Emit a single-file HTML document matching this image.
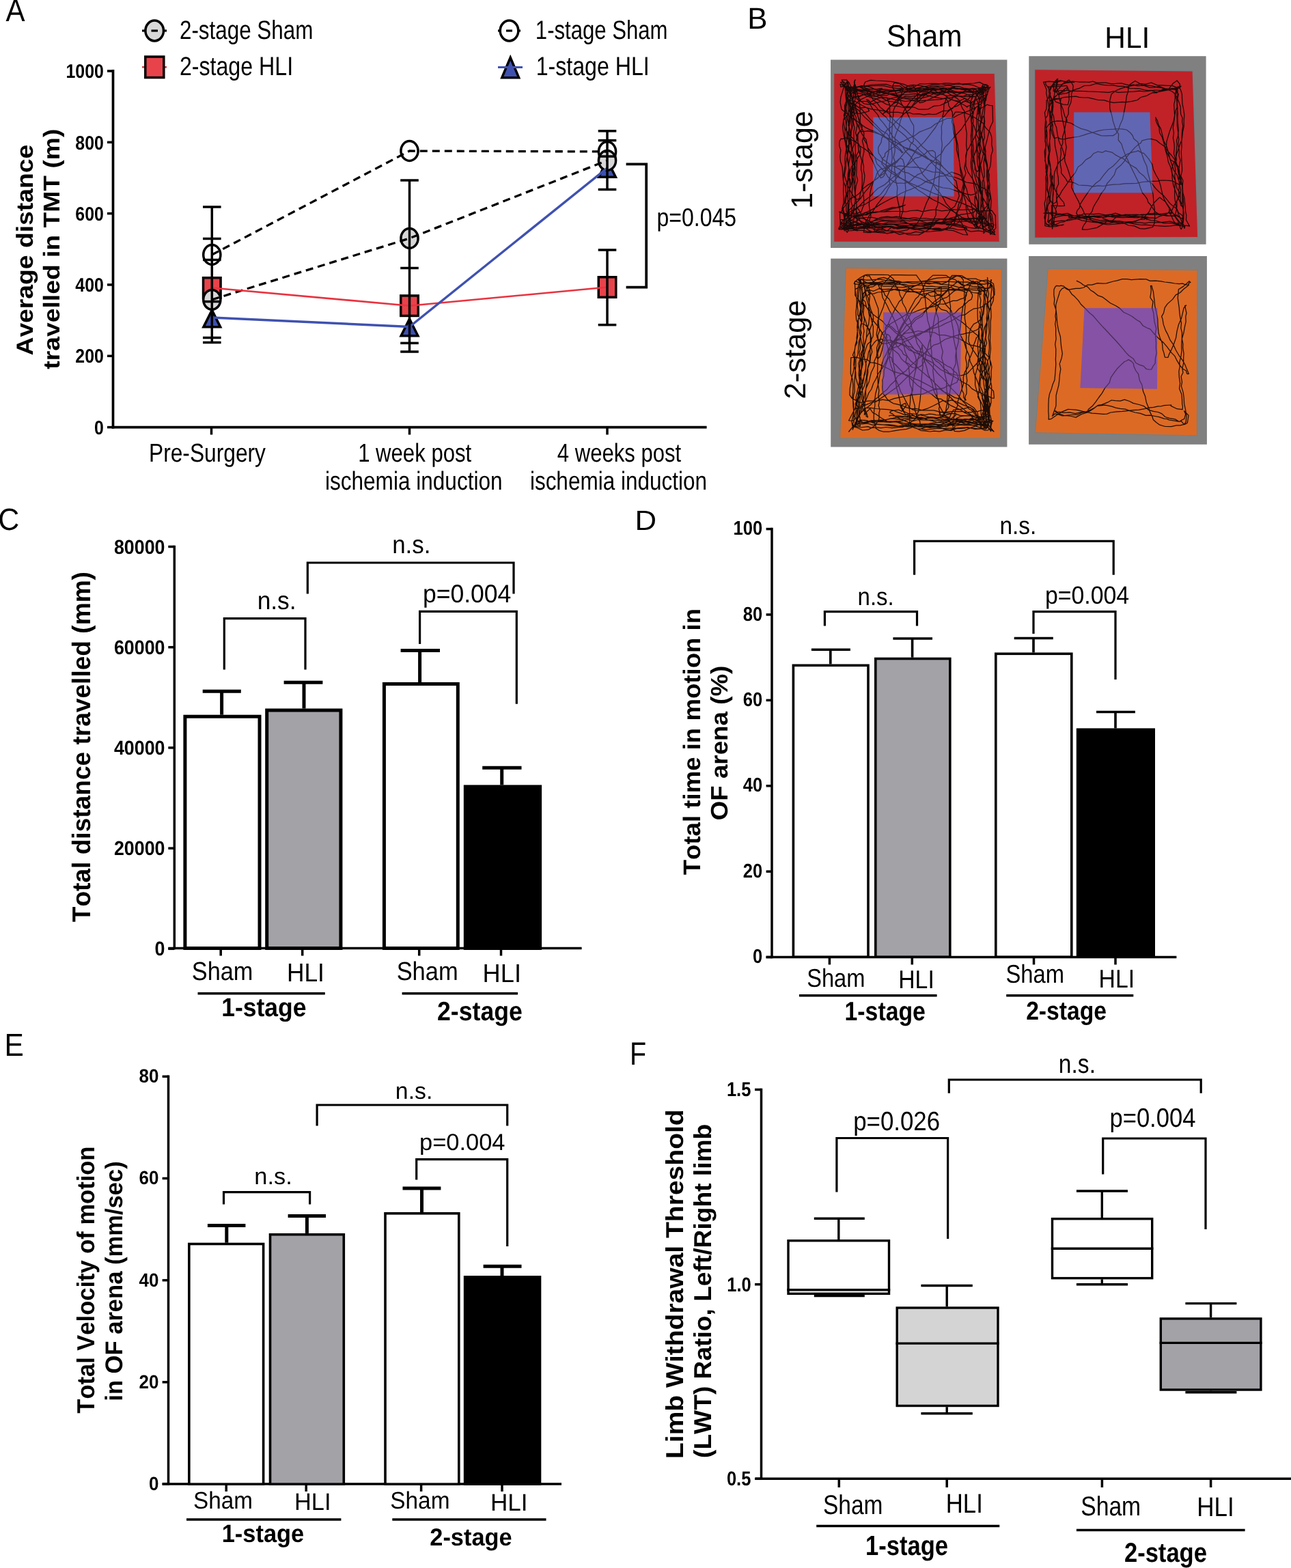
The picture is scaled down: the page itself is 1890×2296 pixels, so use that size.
<!DOCTYPE html>
<html><head><meta charset="utf-8"><title>Figure</title>
<style>
html,body{margin:0;padding:0;background:#fff;}
svg{display:block;font-family:"Liberation Sans",Arial,sans-serif;font-kerning:none;text-rendering:geometricPrecision;}
text{font-kerning:none;}
</style></head><body>
<svg width="1890" height="2296" viewBox="0 0 1890 2296">
<rect width="1890" height="2296" fill="#fff"/>
<text transform="translate(8.52,31.00) scale(0.9103,1)" font-size="46.22" fill="#000">A</text>
<line x1="208.00" y1="45.00" x2="214.00" y2="45.00" stroke="#000" stroke-width="3.2"/>
<line x1="238.00" y1="45.00" x2="244.00" y2="45.00" stroke="#000" stroke-width="3.2"/>
<ellipse cx="226.20" cy="45.00" rx="13.3" ry="14.9" fill="#d8d8d8" stroke="#000" stroke-width="3.5"/>
<line x1="221.50" y1="45.00" x2="231.00" y2="45.00" stroke="#000" stroke-width="3.2"/>
<text transform="translate(262.92,57.40) scale(0.8154,1)" font-size="38.50" fill="#000">2-stage Sham</text>
<line x1="208.00" y1="98.30" x2="244.00" y2="98.30" stroke="#e83340" stroke-width="2.6"/>
<rect x="212.80" y="83.05" width="27.00" height="30.50" fill="#e8434b" stroke="#000" stroke-width="3.5"/>
<text transform="translate(262.88,110.20) scale(0.8350,1)" font-size="38.50" fill="#000">2-stage HLI</text>
<line x1="729.00" y1="45.00" x2="735.00" y2="45.00" stroke="#000" stroke-width="3.2"/>
<line x1="756.00" y1="45.00" x2="762.00" y2="45.00" stroke="#000" stroke-width="3.2"/>
<ellipse cx="745.50" cy="45.00" rx="13.3" ry="14.9" fill="#fff" stroke="#000" stroke-width="3.5"/>
<line x1="741.00" y1="45.00" x2="750.00" y2="45.00" stroke="#000" stroke-width="3.2"/>
<text transform="translate(783.83,57.40) scale(0.8082,1)" font-size="38.50" fill="#000">1-stage Sham</text>
<polygon points="747.20,84.30 759.60,113.65 734.80,113.65" fill="#3f51b0" stroke="#000" stroke-width="3.5" stroke-linejoin="miter"/>
<line x1="729.00" y1="98.50" x2="765.00" y2="98.50" stroke="#3f51b0" stroke-width="3.0"/>
<text transform="translate(784.65,110.20) scale(0.8346,1)" font-size="38.50" fill="#000">1-stage HLI</text>
<line x1="165.50" y1="102.00" x2="165.50" y2="627.40" stroke="#000" stroke-width="3.7"/>
<line x1="163.70" y1="625.60" x2="1034.60" y2="625.60" stroke="#000" stroke-width="3.7"/>
<line x1="157.00" y1="104.00" x2="165.50" y2="104.00" stroke="#000" stroke-width="3.5"/>
<text transform="translate(96.53,114.20) scale(0.8659,1)" font-size="28.70" font-weight="bold" fill="#000">1000</text>
<line x1="157.00" y1="208.32" x2="165.50" y2="208.32" stroke="#000" stroke-width="3.5"/>
<text transform="translate(110.36,218.52) scale(0.8659,1)" font-size="28.70" font-weight="bold" fill="#000">800</text>
<line x1="157.00" y1="312.64" x2="165.50" y2="312.64" stroke="#000" stroke-width="3.5"/>
<text transform="translate(110.36,322.84) scale(0.8659,1)" font-size="28.70" font-weight="bold" fill="#000">600</text>
<line x1="157.00" y1="416.96" x2="165.50" y2="416.96" stroke="#000" stroke-width="3.5"/>
<text transform="translate(110.36,427.16) scale(0.8659,1)" font-size="28.70" font-weight="bold" fill="#000">400</text>
<line x1="157.00" y1="521.28" x2="165.50" y2="521.28" stroke="#000" stroke-width="3.5"/>
<text transform="translate(110.36,531.48) scale(0.8659,1)" font-size="28.70" font-weight="bold" fill="#000">200</text>
<line x1="157.00" y1="625.60" x2="165.50" y2="625.60" stroke="#000" stroke-width="3.5"/>
<text transform="translate(138.00,635.80) scale(0.8659,1)" font-size="28.70" font-weight="bold" fill="#000">0</text>
<line x1="309.50" y1="625.60" x2="309.50" y2="636.50" stroke="#000" stroke-width="3.5"/>
<line x1="599.50" y1="625.60" x2="599.50" y2="636.50" stroke="#000" stroke-width="3.5"/>
<line x1="889.00" y1="625.60" x2="889.00" y2="636.50" stroke="#000" stroke-width="3.5"/>
<text transform="translate(218.00,676.10) scale(0.8390,1)" font-size="37.80" fill="#000">Pre-Surgery</text>
<text transform="translate(524.13,675.80) scale(0.8234,1)" font-size="37.80" fill="#000">1 week post</text>
<text transform="translate(475.89,716.60) scale(0.8353,1)" font-size="37.80" fill="#000">ischemia induction</text>
<text transform="translate(815.79,675.80) scale(0.8224,1)" font-size="37.80" fill="#000">4 weeks post</text>
<text transform="translate(775.89,716.60) scale(0.8331,1)" font-size="37.80" fill="#000">ischemia induction</text>
<text transform="translate(47.80,520.53) rotate(-90) scale(1.0903,1)" font-size="34.20" font-weight="bold" fill="#000">Average distance</text>
<text transform="translate(87.00,540.65) rotate(-90) scale(1.1125,1)" font-size="33.50" font-weight="bold" fill="#000">travelled in TMT (m)</text>
<polyline points="916.6,240.4 946.2,240.4 946.2,420.7 916.6,420.7" fill="none" stroke="#000" stroke-width="3.8"/>
<text transform="translate(961.54,331.40) scale(0.8552,1)" font-size="37.40" fill="#000">p=0.045</text>
<polygon points="310.30,454.10 322.65,478.85 297.95,478.85" fill="#3f51b0" stroke="#000" stroke-width="3.5" stroke-linejoin="miter"/>
<polygon points="599.50,467.00 611.85,491.75 587.15,491.75" fill="#3f51b0" stroke="#000" stroke-width="3.5" stroke-linejoin="miter"/>
<polygon points="889.00,234.50 901.35,259.25 876.65,259.25" fill="#3f51b0" stroke="#000" stroke-width="3.5" stroke-linejoin="miter"/>
<rect x="297.55" y="406.75" width="25.50" height="29.50" fill="#e8434b" stroke="#000" stroke-width="3.5"/>
<rect x="586.75" y="432.95" width="25.50" height="29.50" fill="#e8434b" stroke="#000" stroke-width="3.5"/>
<rect x="876.25" y="405.75" width="25.50" height="29.50" fill="#e8434b" stroke="#000" stroke-width="3.5"/>
<ellipse cx="310.30" cy="373.00" rx="12.6" ry="14.4" fill="#fff" stroke="#000" stroke-width="3.5"/>
<ellipse cx="599.50" cy="221.00" rx="12.6" ry="14.4" fill="#fff" stroke="#000" stroke-width="3.5"/>
<ellipse cx="889.00" cy="222.00" rx="12.6" ry="14.4" fill="#fff" stroke="#000" stroke-width="3.5"/>
<ellipse cx="310.30" cy="438.80" rx="12.6" ry="14.4" fill="#d8d8d8" stroke="#000" stroke-width="3.5"/>
<ellipse cx="599.50" cy="349.00" rx="12.6" ry="14.4" fill="#d8d8d8" stroke="#000" stroke-width="3.5"/>
<ellipse cx="889.00" cy="235.00" rx="12.6" ry="14.4" fill="#d8d8d8" stroke="#000" stroke-width="3.5"/>
<polyline points="310.30,373.00 599.50,221.00 889.00,222.00" fill="none" stroke="#000" stroke-width="3.3" stroke-dasharray="11,7"/>
<polyline points="310.30,438.80 599.50,349.00 889.00,235.00" fill="none" stroke="#000" stroke-width="3.3" stroke-dasharray="11,7"/>
<polyline points="310.30,421.50 599.50,447.70 889.00,420.50" fill="none" stroke="#e83340" stroke-width="2.6"/>
<polyline points="310.30,465.00 599.50,478.50 889.00,246.00" fill="none" stroke="#3f51b0" stroke-width="3.4"/>
<line x1="310.30" y1="303.00" x2="310.30" y2="501.50" stroke="#000" stroke-width="3.5"/>
<line x1="297.00" y1="303.00" x2="323.60" y2="303.00" stroke="#000" stroke-width="3.5"/>
<line x1="297.00" y1="349.50" x2="323.60" y2="349.50" stroke="#000" stroke-width="3.5"/>
<line x1="297.00" y1="380.50" x2="323.60" y2="380.50" stroke="#000" stroke-width="3.5"/>
<line x1="297.00" y1="441.60" x2="323.60" y2="441.60" stroke="#000" stroke-width="3.5"/>
<line x1="297.00" y1="494.50" x2="323.60" y2="494.50" stroke="#000" stroke-width="3.5"/>
<line x1="297.00" y1="501.50" x2="323.60" y2="501.50" stroke="#000" stroke-width="3.5"/>
<line x1="599.50" y1="264.00" x2="599.50" y2="515.00" stroke="#000" stroke-width="3.5"/>
<line x1="586.20" y1="264.00" x2="612.80" y2="264.00" stroke="#000" stroke-width="3.5"/>
<line x1="586.20" y1="392.50" x2="612.80" y2="392.50" stroke="#000" stroke-width="3.5"/>
<line x1="586.20" y1="502.40" x2="612.80" y2="502.40" stroke="#000" stroke-width="3.5"/>
<line x1="586.20" y1="515.00" x2="612.80" y2="515.00" stroke="#000" stroke-width="3.5"/>
<line x1="889.00" y1="191.80" x2="889.00" y2="277.50" stroke="#000" stroke-width="3.5"/>
<line x1="875.70" y1="191.80" x2="902.30" y2="191.80" stroke="#000" stroke-width="3.5"/>
<line x1="875.70" y1="205.60" x2="902.30" y2="205.60" stroke="#000" stroke-width="3.5"/>
<line x1="875.70" y1="229.00" x2="902.30" y2="229.00" stroke="#000" stroke-width="3.5"/>
<line x1="875.70" y1="277.50" x2="902.30" y2="277.50" stroke="#000" stroke-width="3.5"/>
<line x1="889.00" y1="366.00" x2="889.00" y2="475.70" stroke="#000" stroke-width="3.5"/>
<line x1="875.70" y1="366.00" x2="902.30" y2="366.00" stroke="#000" stroke-width="3.5"/>
<line x1="875.70" y1="475.70" x2="902.30" y2="475.70" stroke="#000" stroke-width="3.5"/>
<text transform="translate(1094.21,42.00) scale(0.9973,1)" font-size="43.90" fill="#000">B</text>
<text transform="translate(1298.08,68.30) scale(0.9392,1)" font-size="45.00" fill="#000">Sham</text>
<text transform="translate(1617.33,69.80) scale(0.9732,1)" font-size="43.50" fill="#000">HLI</text>
<text transform="translate(1188.50,305.67) rotate(-90) scale(0.9792,1)" font-size="43.90" fill="#000">1-stage</text>
<text transform="translate(1179.30,584.49) rotate(-90) scale(0.9918,1)" font-size="43.90" fill="#000">2-stage</text>
<rect x="1216.0" y="87.5" width="258.40" height="275.50" fill="#808080"/>
<polygon points="1221.20,108.00 1455.70,108.00 1462.70,353.70 1221.20,353.70" fill="#c02228" stroke="#6f8187" stroke-width="2.2"/>
<polygon points="1221.20,108.00 1455.70,108.00 1462.70,353.70 1221.20,353.70" fill="#c02228"/>
<polygon points="1278.40,171.80 1395.80,171.80 1396.60,287.60 1278.40,287.60" fill="#6266b2"/>
<path d="M1415.6,300.4 1417.1,306.2 1422.6,313.7 1426.6,324.5 1430.8,331.4 1432.4,335.0 1436.1,328.7 1431.7,319.2 1426.0,319.8 1419.3,321.5 1410.1,322.0 1400.7,327.0 1392.5,327.8 1386.3,329.6 1382.1,326.0 1380.5,321.7 1384.5,318.5 1387.9,314.0 1392.3,305.9 1397.7,302.2 1401.5,294.0 1404.3,286.9 1402.1,276.6 1399.8,265.1 1396.6,262.6 1394.2,258.1 1388.9,252.7 1384.3,248.3 1379.7,244.0 1375.5,237.0 1370.7,233.0 1362.4,227.2 1358.1,221.3 1350.5,215.0 1344.7,208.1 1339.0,202.6 1331.8,196.4 1325.9,190.4 1317.5,183.3 1310.5,177.8 1305.4,171.9 1301.5,166.5 1293.6,161.1 1288.5,157.0 1283.8,150.2 1279.2,147.5 1275.7,141.9 1272.6,138.1 1268.9,134.1 1268.3,131.1 1266.2,127.8 1264.7,124.5 1266.7,120.0 1274.5,117.4 1282.2,118.0 1292.6,118.5 1304.7,119.4 1313.9,121.2 1323.0,123.4 1332.2,127.0 1336.8,125.9 1343.2,136.1 1343.2,146.1 1346.5,150.6 1351.6,149.7 1356.9,147.0 1366.4,142.6 1376.2,138.1 1384.3,135.7 1392.2,130.7 1395.9,128.4 1398.3,126.9 1397.0,126.4 1392.4,128.4 1385.9,131.7 1377.3,135.6 1368.0,136.7 1358.9,141.1 1350.8,143.3 1342.6,144.2 1336.0,143.9 1327.2,143.2 1319.3,142.0 1311.2,139.8 1304.4,137.3 1295.1,136.5 1289.1,135.0 1283.2,136.5 1277.4,139.2 1267.9,142.0 1257.9,146.9 1254.1,151.2 1247.5,155.9 1245.4,160.3 1242.4,162.2 1246.7,164.8 1256.8,166.4 1267.8,164.1 1272.5,162.4 1270.6,158.9 1261.9,154.3 1250.9,147.9 1245.9,147.5 1239.0,149.2 1237.3,157.5 1236.3,171.2 1234.7,175.4 1235.6,182.4 1237.1,190.8 1236.9,198.5 1237.8,206.7 1239.5,215.4 1239.8,225.0 1241.4,233.0 1241.9,239.7 1243.4,249.2 1241.9,257.0 1244.9,263.8 1245.3,266.9 1245.7,270.9 1246.2,271.6 1247.6,266.3 1246.6,254.5 1248.0,244.3 1248.7,233.8 1247.2,226.0 1242.7,219.9 1243.4,210.1 1243.4,203.5 1243.0,194.7 1242.9,186.5 1244.4,177.1 1244.4,170.1 1244.5,161.1 1242.8,150.6 1242.1,145.4 1241.5,141.4 1240.1,144.7 1236.6,154.4 1236.6,164.4 1235.4,169.0 1238.0,175.8 1238.6,181.6 1239.4,189.5 1239.9,198.1 1239.5,205.3 1238.7,210.7 1242.2,218.6 1241.2,225.2 1240.8,235.0 1241.8,241.5 1243.8,250.0 1243.4,256.7 1243.4,263.7 1243.9,270.4 1243.6,279.8 1244.1,287.3 1243.3,295.9 1242.5,305.0 1243.2,311.5 1243.0,317.6 1242.4,323.1 1243.1,329.4 1243.6,331.7 1255.3,328.4 1259.9,327.8 1265.6,328.6 1272.5,329.8 1280.1,329.4 1289.5,330.4 1296.3,331.4 1304.7,331.2 1314.0,333.6 1321.8,331.7 1329.0,334.0 1336.0,333.6 1342.8,333.8 1349.0,335.1 1358.3,331.8 1366.6,330.9 1369.5,327.2 1375.4,325.5 1385.4,328.1 1394.3,330.0 1405.1,332.3 1411.9,333.6 1415.7,335.4 1414.7,333.3 1403.3,330.0 1389.0,329.3 1382.7,327.6 1379.2,328.2 1371.6,327.3 1363.8,326.8 1355.7,327.8 1349.6,326.9 1341.7,327.0 1334.4,327.4 1328.6,327.2 1320.2,327.7 1313.1,328.1 1305.0,327.8 1295.8,327.8 1287.2,327.3 1278.4,326.0 1271.5,326.8 1264.1,328.3 1256.8,327.7 1253.3,325.7 1244.2,325.4 1245.9,327.1 1251.1,337.1 1255.6,337.8 1253.6,334.4 1254.1,327.8 1255.4,321.8 1253.3,316.1 1253.4,307.6 1254.1,300.3 1253.2,292.8 1252.2,285.1 1250.8,275.2 1252.0,264.8 1251.3,256.0 1251.7,251.0 1250.4,243.3 1249.9,236.1 1250.3,227.0 1247.5,219.4 1250.4,211.5 1250.0,201.4 1249.8,193.6 1251.0,186.8 1249.1,178.5 1250.2,173.2 1247.3,166.5 1250.2,161.5 1248.9,159.8 1249.6,157.2 1250.2,165.2 1248.8,181.4 1247.6,187.0 1246.2,192.9 1245.7,199.1 1243.9,206.1 1242.0,214.8 1240.7,224.5 1239.8,230.9 1238.3,239.2 1238.1,246.7 1236.9,253.3 1236.3,257.0 1239.9,268.6 1243.4,276.9 1247.8,284.7 1252.5,291.3 1255.9,292.0 1258.7,289.8 1259.3,284.1 1261.7,276.5 1262.3,266.8 1262.0,253.8 1260.6,248.4 1260.7,242.6 1261.9,235.8 1259.2,227.4 1256.9,218.4 1256.4,210.4 1254.7,201.6 1252.6,194.5 1254.9,183.9 1253.4,177.6 1253.3,172.1 1250.7,165.7 1250.4,160.6 1249.7,158.9 1246.5,156.8 1245.1,160.9 1245.9,168.8 1243.1,178.2 1242.7,189.9 1241.7,198.2 1239.3,205.8 1239.3,212.7 1238.8,219.3 1237.6,226.0 1236.9,234.0 1237.3,242.7 1235.8,250.6 1235.0,257.9 1234.8,266.4 1234.9,273.5 1234.6,279.9 1235.2,289.6 1235.0,297.0 1232.7,306.1 1234.9,312.9 1236.4,322.4 1235.6,327.2 1235.7,333.5 1236.3,338.0 1236.1,332.3 1242.1,321.1 1249.7,324.1 1258.5,327.0 1268.7,331.6 1273.5,333.2 1272.0,326.6 1263.9,318.8 1257.6,307.7 1254.5,303.5 1253.5,308.6 1256.8,316.4 1259.2,323.4 1266.0,332.9 1273.0,337.9 1278.0,339.9 1284.7,340.3 1293.6,339.8 1298.7,342.1 1307.4,339.2 1317.1,343.3 1326.5,341.5 1333.4,341.7 1340.7,339.3 1347.8,340.5 1354.2,339.4 1362.1,334.4 1365.5,329.2 1369.5,324.6 1376.6,321.0 1382.5,321.8 1389.5,321.3 1398.6,321.6 1406.5,321.4 1416.5,323.5 1423.6,324.8 1433.1,326.3 1439.3,327.1 1446.8,328.4 1452.4,327.5 1455.2,329.1 1454.1,331.3 1441.9,329.9 1441.5,324.3 1442.3,318.5 1442.1,309.7 1439.0,298.4 1439.3,291.9 1437.3,287.7 1436.9,279.2 1433.5,273.6 1434.6,264.9 1429.1,257.2 1429.1,249.5 1427.1,241.5 1424.7,234.7 1423.3,225.9 1423.3,220.4 1422.2,212.8 1421.6,204.1 1422.0,196.1 1422.3,187.0 1422.5,175.1 1424.8,166.9 1426.2,158.9 1425.9,153.3 1427.7,146.9 1429.1,144.2 1428.8,141.9 1428.4,143.7 1431.0,148.6 1432.0,153.1 1432.2,159.6 1433.3,169.5 1431.8,177.7 1433.0,187.8 1433.4,196.5 1434.5,205.8 1433.0,213.2 1435.7,221.5 1434.2,228.2 1433.5,236.1 1434.7,244.2 1434.9,251.0 1432.3,263.0 1432.9,267.0 1434.0,274.7 1431.9,282.5 1432.7,287.4 1432.8,293.2 1432.8,307.8 1434.0,314.8 1433.6,319.1 1429.1,334.0 1419.2,320.9 1417.1,317.7 1416.3,313.3 1414.6,307.2 1414.2,300.5 1413.5,294.6 1410.7,285.8 1410.7,276.7 1410.3,268.2 1408.0,259.7 1406.0,249.9 1405.2,240.5 1403.7,232.2 1402.9,221.6 1402.2,212.7 1400.3,204.2 1398.2,193.9 1396.9,185.1 1395.6,179.9 1394.8,172.7 1394.2,164.1 1391.0,157.9 1388.9,155.0 1388.5,150.7 1387.6,147.9 1385.2,145.5 1384.9,144.9 1384.4,146.4 1384.0,148.8 1382.6,150.8 1381.9,154.3 1381.7,159.3 1381.3,165.6 1380.0,170.2 1380.0,179.9 1378.2,185.1 1378.6,194.8 1378.1,202.2 1379.3,211.4 1378.4,219.7 1377.5,229.3 1377.3,238.9 1376.1,248.6 1375.2,256.7 1374.6,266.4 1374.4,276.3 1373.7,283.9 1373.2,292.6 1372.7,300.0 1370.2,305.4 1370.2,314.7 1367.7,320.0 1366.0,323.6 1364.1,327.9 1360.3,335.6 1352.4,340.3 1345.4,343.9 1337.2,344.0 1329.5,343.7 1322.3,340.8 1313.7,339.6 1306.0,338.0 1299.0,338.2 1293.9,335.9 1282.9,336.1 1273.4,333.6 1267.5,334.2 1258.8,334.7 1249.5,337.4 1242.3,338.0 1238.6,333.8 1237.1,330.8 1241.0,322.9 1245.7,318.6 1249.0,308.9 1252.0,294.7 1251.9,289.9 1251.9,284.2 1251.2,277.5 1251.7,271.5 1250.1,264.4 1248.2,255.9 1248.4,249.0 1248.2,241.6 1246.8,233.3 1246.2,224.1 1246.5,217.6 1245.3,210.6 1244.9,203.7 1245.8,194.3 1246.8,187.7 1246.0,178.0 1246.2,169.7 1247.2,161.0 1247.7,152.2 1248.6,144.4 1249.9,136.6 1251.0,129.8 1250.7,123.5 1250.5,119.6 1252.3,117.0 1251.3,117.3 1250.9,131.1 1252.2,140.7 1255.1,141.3 1263.9,138.9 1277.2,135.5 1281.8,134.5 1287.4,136.5 1293.9,133.4 1301.0,133.9 1309.0,133.8 1315.3,132.9 1322.2,132.0 1328.9,131.1 1337.2,132.5 1346.3,131.1 1350.6,131.7 1359.6,130.4 1365.8,129.0 1372.6,130.8 1381.4,128.3 1387.5,130.8 1395.5,128.5 1405.2,129.7 1410.5,130.7 1417.1,130.0 1425.1,131.1 1430.4,130.1 1436.0,130.1 1439.9,129.4 1447.3,126.0 1445.8,125.2 1445.0,132.0 1445.7,138.0 1442.5,143.7 1442.0,152.5 1441.4,164.2 1440.7,169.6 1441.6,177.8 1441.0,185.3 1440.7,192.8 1441.4,201.6 1439.0,208.6 1440.4,216.4 1440.2,223.0 1437.3,235.2 1433.9,246.4 1431.4,251.3 1427.3,248.8 1427.4,242.5 1426.8,238.0 1425.5,229.0 1425.1,217.4 1424.1,208.5 1423.7,198.5 1424.0,188.3 1424.8,177.4 1424.2,166.8 1422.5,159.4 1420.7,151.6 1417.0,148.7 1412.9,144.1 1406.7,146.8 1404.7,148.6 1402.6,150.4 1397.0,155.7 1394.9,158.5 1390.6,161.1 1387.1,164.2 1383.0,169.7 1377.3,173.9 1372.4,181.7 1369.2,187.0 1363.7,194.2 1359.6,199.6 1353.2,207.6 1348.2,212.6 1341.7,218.8 1336.5,227.1 1331.8,235.5 1327.0,242.9 1320.8,248.0 1316.2,255.7 1310.8,262.9 1305.0,268.9 1300.3,275.9 1297.1,282.6 1291.8,289.8 1287.0,295.9 1283.8,299.9 1279.7,306.4 1276.6,311.4 1272.5,315.7 1270.2,320.8 1267.6,324.2 1266.7,326.6 1264.4,340.2 1274.2,340.7 1290.3,335.6 1295.3,332.5 1293.5,333.4 1286.7,331.8 1280.4,333.9 1270.0,334.2 1262.0,333.4 1251.6,333.3 1244.2,332.6 1240.8,332.3 1228.0,334.3 1233.9,322.5 1237.0,322.2 1241.4,317.7 1245.5,314.9 1248.5,309.8 1255.0,304.8 1260.9,298.8 1265.4,294.0 1274.1,287.4 1278.9,282.0 1285.3,275.7 1294.4,270.9 1301.6,264.8 1308.0,259.1 1315.6,253.8 1321.9,247.9 1328.5,241.7 1334.2,236.7 1339.6,231.7 1345.4,230.3 1351.0,227.2 1355.5,224.2 1357.2,221.7 1362.3,220.6 1365.7,220.4 1368.9,222.9 1369.3,223.9 1369.6,229.3 1371.0,238.0 1369.8,244.5 1369.8,251.1 1368.2,260.4 1366.4,269.4 1362.9,279.4 1360.6,288.6 1356.4,297.0 1353.0,306.3 1350.2,314.1 1346.4,321.1 1343.3,326.3 1338.9,330.8 1332.6,333.8 1328.3,336.7 1319.5,338.4 1311.9,339.4 1305.5,340.8 1297.3,341.5 1285.4,340.5 1279.0,339.9 1269.7,338.9 1263.0,337.3 1255.7,337.3 1249.8,335.4 1243.1,334.7 1237.8,334.0 1231.0,335.9 1236.8,334.9 1239.2,336.5 1240.6,334.3 1239.0,329.8 1237.7,322.1 1235.9,312.4 1233.7,301.9 1236.5,297.9 1237.1,290.8 1238.8,284.5 1237.8,278.3 1238.9,269.5 1241.1,263.9 1241.4,254.8 1242.7,248.3 1242.5,239.8 1244.1,232.6 1245.2,226.3 1241.6,219.5 1242.8,211.2 1241.8,203.6 1241.2,195.9 1243.3,187.2 1242.0,179.9 1240.8,171.6 1240.3,165.5 1238.8,160.3 1238.4,152.6 1238.8,147.4 1237.8,137.2 1237.1,127.2 1237.1,121.5 1234.9,119.7 1230.6,120.5 1237.1,126.8 1240.7,126.1 1243.8,127.3 1250.2,128.4 1257.0,127.2 1264.5,128.7 1272.2,130.3 1281.1,130.4 1289.1,131.1 1295.0,130.9 1304.2,132.1 1312.8,132.0 1319.0,133.8 1326.4,135.1 1332.9,133.4 1342.8,132.7 1347.0,134.6 1355.3,134.5 1364.6,134.7 1371.3,135.8 1378.0,134.0 1386.2,135.4 1393.5,135.0 1399.3,135.4 1406.0,136.2 1411.6,133.5 1416.1,134.8 1427.4,133.9 1437.2,130.9 1443.8,131.8 1448.7,129.0 1449.9,127.4 1448.9,128.2 1440.3,128.5 1438.0,131.9 1432.3,134.5 1429.1,140.6 1424.9,151.3 1423.9,156.5 1422.3,161.8 1424.3,167.8 1421.6,174.5 1422.5,183.2 1422.6,191.7 1421.4,198.2 1421.8,205.8 1422.9,213.6 1421.9,221.1 1422.4,230.0 1421.4,237.0 1421.7,245.0 1423.0,252.1 1423.6,260.7 1425.4,268.4 1426.6,276.0 1428.8,287.0 1431.2,294.7 1431.0,302.2 1433.2,311.4 1435.3,318.5 1437.6,326.2 1437.7,330.9 1440.1,336.9 1440.1,340.4 1439.7,341.5 1441.0,340.9 1440.0,336.2 1439.0,327.9 1436.3,318.6 1432.7,306.3 1431.8,297.6 1430.1,292.6 1427.4,287.2 1427.2,288.3 1427.2,297.2 1430.3,309.5 1429.0,316.0 1430.1,333.0 1427.6,327.2 1426.2,324.1 1425.9,318.9 1424.4,312.4 1423.7,307.5 1422.4,301.1 1420.2,294.3 1417.3,286.3 1415.1,276.8 1412.4,270.2 1410.3,260.2 1408.2,252.7 1405.4,243.4 1404.4,235.1 1401.8,224.7 1400.4,219.6 1400.4,210.2 1399.1,203.8 1396.5,195.3 1395.3,189.2 1395.0,182.7 1393.4,178.4 1394.0,174.8 1394.0,171.8 1398.6,164.1 1403.8,164.0 1411.2,164.9 1419.8,168.0 1428.7,173.2 1438.5,179.7 1442.9,186.9 1449.4,193.6 1451.6,200.1 1452.0,205.1 1451.8,211.6 1453.4,220.1 1451.0,227.5 1450.6,236.5 1449.8,243.4 1447.3,250.2 1447.0,260.6 1446.4,266.8 1445.4,272.8 1444.7,281.3 1447.7,291.8 1447.8,300.7 1448.3,310.4 1447.0,316.3 1446.7,325.2 1448.6,330.1 1447.1,334.5 1447.1,333.7 1447.9,330.1 1441.9,319.6 1429.6,307.3 1427.0,306.1 1422.5,303.6 1414.4,300.2 1408.5,297.7 1400.4,294.8 1392.4,292.4 1383.5,288.4 1375.5,286.2 1367.1,283.2 1357.9,278.9 1349.0,275.3 1340.7,271.5 1331.9,267.9 1325.7,264.2 1316.5,260.1 1310.6,256.4 1304.3,253.0 1300.1,249.6 1296.3,246.8 1292.9,241.9 1290.9,240.0 1291.9,234.4 1292.1,231.6 1295.4,229.0 1295.7,224.8 1299.6,221.0 1305.3,217.3 1311.3,213.2 1316.9,208.8 1323.0,206.6 1330.0,202.7 1337.9,199.4 1345.8,193.4 1353.1,190.5 1363.2,186.6 1369.0,181.7 1377.1,177.7 1386.8,173.3 1394.1,173.3 1402.4,168.5 1409.8,165.5 1419.3,161.8 1423.7,159.7 1431.6,155.8 1435.6,158.7 1441.9,155.5 1444.9,153.2 1449.0,154.3 1453.0,154.7 1453.1,157.2 1453.2,162.1 1453.3,168.0 1453.6,177.9 1449.6,186.6 1446.9,196.6 1444.6,206.6 1442.1,215.8 1443.0,221.8 1441.7,228.5 1440.3,236.7 1440.3,244.1 1440.8,250.9 1441.2,258.6 1438.0,266.8 1439.1,274.3 1438.2,281.5 1438.5,288.7 1438.8,295.2 1437.6,299.9 1439.1,305.1 1440.6,319.2 1436.9,325.8 1433.5,324.1 1427.3,323.5 1418.7,322.0 1407.4,321.7 1400.5,321.5 1395.5,322.9 1385.9,324.7 1378.7,325.7 1371.5,327.1 1360.0,328.9 1353.8,329.8 1349.1,331.5 1342.9,331.4 1334.4,329.8 1330.7,328.0 1322.4,323.0 1317.0,324.5 1310.5,325.2 1301.5,325.0 1293.5,327.5 1283.9,329.0 1277.1,330.4 1268.3,331.8 1261.5,332.9 1256.8,333.6 1242.5,331.6 1234.2,328.4 1231.7,326.3 1237.6,326.9 1246.3,327.6 1243.2,319.8 1238.8,308.6 1239.0,300.4 1237.7,295.9 1239.3,288.3 1240.4,281.2 1241.0,272.8 1241.3,266.1 1243.6,258.3 1244.4,251.7 1246.7,243.6 1251.9,238.2 1255.8,230.9 1259.3,226.1 1259.8,217.6 1257.2,210.8 1252.9,208.3 1248.6,202.7 1242.4,196.5 1238.2,189.9 1239.1,182.5 1239.9,175.3 1237.6,166.9 1238.9,156.3 1240.5,148.8 1239.5,142.1 1239.9,134.5 1239.2,127.3 1230.1,123.3 1230.9,127.4 1233.6,126.4 1240.0,127.3 1247.5,127.3 1255.8,130.5 1264.3,132.2 1272.1,132.6 1280.6,133.9 1287.5,134.2 1295.5,137.4 1301.0,136.8 1311.4,139.1 1319.4,139.0 1325.6,138.5 1331.6,138.2 1339.8,137.4 1346.5,138.6 1352.7,138.2 1360.3,136.7 1368.0,135.9 1372.9,136.4 1381.1,134.9 1388.7,134.3 1395.2,133.3 1402.9,134.9 1411.8,134.3 1417.7,133.3 1423.7,134.3 1429.1,133.9 1435.9,130.8 1435.7,133.7 1436.7,137.2 1436.5,141.8 1436.3,155.4 1434.9,161.6 1435.1,168.3 1436.2,175.1 1435.3,182.7 1435.1,191.3 1435.1,199.6 1435.2,207.5 1433.6,216.1 1434.9,222.7 1432.4,229.0 1433.7,237.0 1433.3,246.4 1434.5,254.0 1434.0,260.7 1435.6,266.8 1436.2,273.2 1436.0,280.6 1436.9,289.6 1438.2,296.6 1435.7,306.5 1437.5,313.3 1438.4,320.7 1436.9,325.1 1437.0,317.7 1427.7,307.8 1425.6,311.2 1418.3,312.6 1412.9,313.4 1406.4,314.1 1399.8,317.4 1391.3,319.4 1385.5,322.5 1376.9,326.1 1369.7,326.2 1362.1,329.7 1356.0,330.3 1347.3,331.2 1340.0,331.3 1333.4,334.6 1325.8,333.0 1317.6,333.5 1308.8,334.6 1301.5,331.7 1293.9,333.4 1285.6,334.1 1279.5,332.2 1272.9,333.2 1266.8,332.4 1261.9,334.3 1248.1,333.3 1242.4,334.6 1237.8,332.7 1238.4,328.3 1239.7,321.7 1240.8,315.6 1241.4,301.3 1241.2,297.2 1241.5,289.9 1238.2,281.0 1237.8,273.4 1234.5,264.7 1233.8,255.8 1233.1,244.5 1230.4,236.1 1229.9,229.0 1230.8,219.9 1228.8,213.2 1229.0,207.1 1231.1,203.1 1233.9,203.3 1237.8,201.9 1240.8,202.5 1245.9,204.3 1249.4,206.2 1256.2,210.5 1259.2,214.2 1265.4,217.6 1271.6,222.4 1278.6,228.0 1283.0,232.4 1292.0,238.3 1298.2,242.4 1303.4,249.5 1311.7,254.4 1317.5,260.1 1324.1,264.1 1331.1,269.1 1338.0,273.4 1344.4,278.5 1349.9,281.7 1356.4,286.2 1365.5,292.3 1374.2,296.3 1382.2,300.9 1391.6,307.4 1400.4,312.4 1409.5,319.2 1417.6,325.0 1425.0,327.9 1433.1,332.6 1439.6,335.6 1445.6,339.4 1451.0,341.9 1456.0,339.9 1455.2,342.4 1456.1,339.0 1454.5,336.9 1452.8,335.2 1452.8,331.2 1449.9,328.6 1445.2,324.0 1442.2,321.4 1438.4,316.8 1434.5,312.8 1431.1,306.1 1424.9,299.8 1418.8,294.6 1414.1,287.9 1407.9,282.3 1400.2,275.3 1393.6,269.1 1386.8,261.8 1381.6,254.0 1372.7,247.1 1367.0,241.1 1360.4,233.7 1353.8,227.1 1346.0,220.1 1339.9,212.9 1332.3,207.8 1325.7,199.4 1319.9,194.5 1311.5,188.0 1308.8,182.4 1300.4,176.3 1297.3,171.4 1292.5,167.8 1286.5,161.6 1283.5,157.8 1280.3,154.1 1275.7,152.1 1273.2,148.8 1272.2,147.4 1271.1,146.4 1268.4,146.0 1270.2,147.0 1269.9,147.4 1271.2,150.2 1272.5,150.8 1275.5,155.8 1277.3,159.3 1281.4,163.9 1284.9,167.8 1287.9,174.2 1293.6,180.6 1298.2,186.8 1302.8,193.2 1307.5,200.8 1314.8,207.0 1321.7,214.9 1325.7,221.8 1332.8,228.8 1339.0,237.8 1346.4,246.6 1350.6,255.2 1356.8,262.2 1365.4,269.0 1370.5,276.5 1375.2,281.7 1380.8,289.8 1384.9,297.9 1389.3,302.6 1394.7,308.6 1399.4,312.5 1403.3,317.9 1404.7,324.0 1408.4,327.2 1409.5,330.5 1416.6,344.0 1410.1,343.5 1395.6,337.7 1379.2,335.8 1374.5,334.2 1369.1,334.2 1362.1,335.3 1354.5,334.6 1346.8,335.5 1338.6,336.2 1330.3,333.9 1322.6,334.1 1314.0,335.1 1307.1,332.8 1298.8,332.5 1293.8,331.3 1286.9,333.0 1280.8,331.2 1265.7,326.5 1254.5,321.1 1250.2,317.1 1260.8,313.7 1266.3,311.3 1269.5,311.9 1275.1,310.5 1281.1,311.3 1287.1,310.1 1294.0,310.2 1300.5,309.7 1308.5,309.5 1317.2,309.3 1326.9,309.8 1333.3,308.5 1343.3,307.9 1350.6,309.8 1361.4,307.7 1369.6,307.0 1378.6,308.9 1388.1,307.9 1395.4,306.9 1404.0,307.3 1411.4,307.2 1419.9,306.8 1426.4,306.3 1431.8,309.6 1438.1,308.6 1443.7,308.7 1449.8,308.4 1451.9,308.1 1457.3,315.7 1457.5,325.6 1457.7,334.1 1452.1,340.3 1445.4,336.6 1439.0,330.1 1438.8,333.3 1444.3,330.8 1443.4,323.7 1444.5,318.9 1443.9,311.3 1446.2,303.0 1445.0,294.7 1445.4,287.3 1445.7,280.2 1448.0,274.6 1445.5,266.4 1444.7,258.5 1444.7,251.6 1445.3,243.4 1442.0,234.9 1441.7,227.9 1438.5,222.8 1435.1,212.4 1434.1,205.4 1429.7,197.8 1428.8,192.9 1426.0,184.4 1421.7,178.1 1421.6,172.2 1420.2,162.0 1420.4,156.2 1421.0,149.2 1424.6,137.1 1419.5,130.6 1413.1,132.3 1409.7,135.5 1403.4,137.8 1396.7,141.3 1391.4,146.9 1384.0,150.9 1376.1,154.5 1367.0,155.4 1358.7,160.0 1351.0,160.2 1345.2,160.2 1338.7,157.2 1330.3,156.2 1323.6,156.4 1316.4,151.1 1307.0,149.0 1300.1,148.1 1291.0,143.4 1286.5,142.3 1279.2,139.5 1273.3,138.3 1266.8,135.3 1262.9,134.4 1257.8,132.3 1244.0,127.7 1242.9,132.8 1243.6,137.1 1246.4,141.2 1249.3,148.7 1252.6,156.0 1254.8,163.1 1256.9,173.8 1258.2,180.0 1257.6,185.0 1258.7,191.9 1255.9,197.2 1256.0,205.5 1256.3,213.7 1257.1,221.5 1253.6,227.8 1254.7,234.1 1254.2,242.1 1254.0,250.5 1253.6,256.2 1255.7,264.0 1253.2,272.4 1252.0,281.8 1252.8,290.2 1251.2,298.8 1249.6,309.9 1250.5,316.7 1249.8,323.2 1249.2,328.5 1248.8,334.5 1249.5,336.2 1248.2,335.0 1245.9,330.6 1244.1,324.2 1242.0,312.9 1241.9,305.2 1241.4,295.7 1241.3,288.4 1241.7,280.5 1245.7,272.6 1247.2,266.4 1249.3,258.0 1252.0,249.5 1252.0,244.0 1250.3,236.7 1249.1,229.2 1248.7,222.7 1247.1,214.6 1246.0,206.0 1245.1,198.9 1244.3,189.1 1241.9,183.5 1243.2,175.1 1242.5,167.2 1241.8,157.1 1241.8,150.4 1241.3,143.0 1241.2,136.8 1243.3,131.1 1247.3,130.6 1256.1,132.8 1264.3,136.5 1267.9,137.8 1275.4,141.4 1282.6,140.9 1288.1,139.7 1295.4,137.5 1302.0,135.0 1309.6,133.4 1315.7,131.4 1322.5,129.4 1331.2,125.1 1336.5,124.4 1348.8,125.7 1353.7,126.9 1359.0,129.4 1366.0,131.1 1374.9,136.7 1381.7,138.2 1389.0,144.3 1396.0,146.8 1403.3,149.3 1408.4,152.2 1412.3,154.2 1416.0,157.1 1416.0,155.9 1422.1,153.7 1431.2,151.5 1438.1,147.5 1438.9,139.9 1437.9,132.0 1433.4,128.5 1425.0,124.9 1415.2,123.3 1409.4,123.8 1404.3,121.8 1395.6,122.5 1389.1,121.9 1382.2,121.9 1374.0,123.3 1365.1,123.7 1357.2,126.0 1350.8,127.1 1343.3,128.8 1337.9,132.6 1330.1,132.0 1322.5,137.1 1315.6,141.8 1306.1,143.5 1299.4,146.6 1294.6,148.0 1289.4,148.9 1277.4,151.8 1271.4,152.8 1265.4,152.0 1260.6,148.5 1257.2,142.6 1252.4,131.1 1252.4,124.8 1251.0,122.4 1249.5,127.2 1250.0,132.6 1249.1,140.2 1248.9,148.8 1249.3,155.7 1246.9,165.7 1247.4,175.0 1248.7,182.6 1246.2,190.6 1246.1,196.6 1244.9,209.7 1240.0,214.5 1238.9,216.7 1237.7,209.7 1236.3,202.8 1234.4,193.0 1233.6,184.9 1234.8,176.4 1240.8,168.7 1243.8,160.7 1244.2,153.2 1245.0,143.7 1245.3,137.7 1245.2,135.8 1244.9,135.5 1240.4,132.6 1245.5,131.8 1250.8,133.0 1255.2,136.1 1261.2,137.4 1268.2,140.1 1274.9,143.0 1282.5,144.7 1292.4,149.6 1297.4,152.6 1306.0,155.0 1312.5,155.3 1318.7,156.5 1324.7,158.0 1333.8,157.4 1337.3,152.3 1342.5,146.2 1346.8,142.0 1350.5,137.1 1357.5,136.0 1363.9,136.5 1370.9,138.4 1378.9,137.9 1386.9,140.6 1393.2,139.4 1401.0,140.3 1409.8,141.2 1417.2,141.3 1425.1,141.1 1430.4,140.9 1438.0,128.4 1439.5,123.3 1437.5,126.7 1437.4,132.7 1436.9,139.0 1434.0,146.5 1431.9,155.8 1431.2,162.2 1429.7,172.5 1429.9,180.8 1429.3,191.1 1428.3,199.6 1428.3,201.6 1429.5,210.9 1429.4,219.2 1430.7,225.8 1430.6,233.8 1431.2,241.6 1433.4,249.7 1433.0,257.1 1434.1,265.3 1435.0,271.9 1434.5,276.9 1436.9,284.0 1436.3,288.7 1435.8,302.7 1435.9,309.9 1433.9,314.2 1432.5,317.5 1430.7,319.6 1431.7,320.4 1441.4,318.6 1443.5,320.1 1439.3,320.2 1434.6,321.1 1427.1,320.0 1419.7,319.6 1411.2,320.4 1402.4,322.0 1393.3,320.8 1385.1,321.0 1374.4,320.3 1367.4,320.6 1361.6,320.7 1354.4,319.5 1346.2,320.2 1338.6,318.7 1329.4,320.1 1320.3,320.7 1312.6,319.2 1305.3,319.2 1296.4,319.0 1289.6,319.6 1283.2,319.8 1277.3,318.4 1273.7,318.4 1259.1,319.2 1253.7,323.5 1251.0,325.5 1248.2,326.1 1247.4,325.3 1243.1,333.7 1240.3,340.4 1238.2,337.6 1239.5,333.4 1241.3,330.0 1250.2,330.6 1253.7,329.3 1259.9,329.4 1267.1,327.8 1275.8,328.5 1284.3,325.3 1291.6,323.4 1300.3,324.0 1310.1,324.5 1316.2,324.9 1324.3,325.7 1331.1,327.4 1339.2,330.0 1346.1,330.9 1359.6,333.3 1365.8,336.1 1373.5,336.7 1379.8,337.3 1386.1,335.4 1390.6,333.3 1396.2,328.5 1399.1,321.1 1400.3,313.2 1405.4,303.1 1408.3,295.0 1409.1,284.2 1412.3,275.0 1410.4,265.7 1407.9,258.8 1403.8,255.6 1397.8,253.7 1393.0,251.8 1391.2,253.0 1386.3,255.7 1381.9,257.6 1374.9,258.1 1370.2,260.4 1363.4,263.5 1355.8,265.6 1348.9,270.5 1342.4,273.2 1334.6,276.8 1327.2,279.5 1318.8,283.2 1311.2,288.0 1302.7,291.7 1295.2,295.7 1289.5,298.9 1280.6,304.6 1274.4,308.1 1267.1,311.3 1260.6,316.3 1253.5,317.6 1249.4,320.4 1243.4,324.3 1240.8,325.7 1237.1,327.2 1228.0,335.8 1237.8,335.6 1240.1,335.5 1251.0,335.4 1256.5,333.1 1262.0,331.9 1269.2,330.5 1276.4,328.9 1286.9,327.4 1296.8,329.5 1302.5,328.3 1307.7,328.4 1315.7,331.3 1324.0,332.2 1332.2,333.0 1338.8,335.4 1347.5,337.1 1356.4,339.3 1362.6,339.0 1371.3,338.1 1377.9,338.0 1382.3,336.0 1387.9,332.6 1393.5,325.3 1396.2,321.9 1399.3,317.0 1400.5,311.9 1401.8,307.5 1403.7,298.5 1405.8,294.7 1408.4,287.7 1408.3,278.7 1410.1,271.0 1410.9,262.1 1414.0,253.7 1411.9,246.2 1413.5,237.1 1414.5,228.3 1415.6,220.9 1414.6,212.1 1414.9,204.3 1415.3,195.5 1414.2,188.8 1413.4,183.0 1412.9,173.7 1411.8,169.2 1411.8,162.3 1409.4,159.4 1407.7,155.8 1405.2,147.7 1400.4,143.6 1393.9,140.2 1388.3,136.4 1383.3,133.3 1375.5,131.7 1367.7,130.8 1360.5,130.8 1352.4,129.3 1343.5,129.9 1335.8,128.5 1328.2,129.3 1321.0,129.0 1314.0,129.6 1307.8,128.6 1303.6,127.8 1293.8,125.7 1284.7,125.5 1276.0,125.5 1267.7,126.3 1259.4,126.4 1252.5,128.8 1247.1,127.1 1240.8,129.2 1237.3,126.5 1232.3,117.0 1239.8,117.0 1241.8,122.2 1242.4,126.3 1244.5,129.5 1246.2,137.1 1247.9,144.1 1250.0,151.5 1252.4,161.0 1255.3,168.5 1258.9,178.0 1260.7,186.1 1264.7,194.0 1264.8,204.2 1269.6,212.0 1271.0,219.9 1273.5,228.2 1277.4,235.5 1280.3,241.9 1282.7,247.5 1284.4,250.8 1286.1,256.1 1288.4,258.5 1289.3,260.5 1292.3,259.4 1294.7,256.5 1295.0,253.2 1296.8,247.9 1297.3,240.6 1299.0,231.4 1300.8,223.4 1301.6,215.4 1301.4,204.9 1302.7,193.9 1302.0,184.0 1303.3,174.9 1302.5,167.0 1302.6,159.8 1302.7,154.0 1300.6,149.3 1298.8,143.0 1290.8,142.6 1282.9,144.9 1274.5,149.4 1266.2,148.3 1259.8,148.5 1254.5,144.9 1250.6,135.2 1245.8,126.7 1242.7,120.4 1240.5,118.4 1238.8,121.6 1235.5,126.8 1233.5,133.8 1230.9,142.3 1230.1,149.9 1232.0,159.9 1240.5,167.1 1244.9,171.9 1248.7,174.1 1254.7,177.4 1258.0,180.0 1266.0,186.1 1273.7,190.1 1280.1,192.2 1288.4,196.9 1296.7,202.0 1305.9,205.5 1312.8,208.8 1320.0,213.7 1328.6,218.4 1336.6,220.9 1344.2,225.7 1351.7,229.0 1358.1,233.0 1363.8,234.5 1368.1,238.1 1372.6,237.6 1376.7,240.6 1377.8,242.3 1378.4,243.0 1379.9,243.0 1376.5,242.0 1374.2,240.6 1369.4,238.5 1363.0,234.9 1357.1,230.7 1350.8,227.8 1341.9,222.0 1334.1,218.6 1324.2,215.8 1316.6,210.8 1306.1,206.3 1300.1,202.5 1291.0,197.7 1285.6,196.0 1277.5,193.1 1270.7,191.6 1268.2,192.2 1258.0,192.9 1254.8,197.6 1254.3,202.6 1252.1,212.7 1252.4,224.1 1252.2,233.6 1251.9,240.5 1249.7,247.2 1249.8,255.0 1248.4,261.3 1248.9,268.6 1247.5,278.7 1247.4,285.8 1245.8,294.8 1247.8,301.6 1246.5,309.4 1246.7,316.3 1244.6,322.3 1245.5,327.8 1243.7,332.1 1242.1,335.7 1245.2,326.6 1252.7,330.0 1264.0,332.0 1270.0,329.4 1275.9,325.0 1281.7,321.9 1290.0,318.1 1298.9,317.1 1305.8,317.8 1312.5,317.1 1319.6,318.4 1325.6,319.3 1333.5,321.1 1341.2,321.3 1349.0,323.9 1356.8,326.6 1364.3,325.4 1372.1,325.4 1381.8,325.8 1389.2,326.2 1397.8,323.6 1406.7,325.0 1412.5,324.0 1421.6,324.6 1427.9,324.7 1433.3,326.8 1438.6,324.2 1448.2,330.9 1449.8,343.3 1450.2,342.7 1450.2,339.9 1450.4,334.1 1450.7,328.1 1451.3,320.9 1449.2,313.1 1450.4,304.7 1451.2,293.2 1449.9,285.0 1448.5,277.2 1448.9,271.0 1447.8,262.1 1448.2,255.7 1445.2,246.1 1443.6,237.6 1441.6,227.6 1439.8,219.6 1439.5,213.2 1438.7,204.7 1437.4,199.5 1435.5,194.0 1435.7,192.3 1435.4,191.7 1439.3,204.8 1441.0,216.7 1442.5,223.2 1443.5,232.4 1445.5,241.1 1446.0,249.6 1445.5,254.6 1445.2,262.3 1446.4,272.4 1446.8,280.5 1447.1,287.4 1447.3,294.4 1447.5,302.2 1449.3,309.7 1448.9,318.3 1451.1,325.8 1450.9,332.1 1449.7,338.8 1450.2,342.5 1456.9,343.7 1450.9,337.1 1446.3,336.9 1441.8,335.9 1434.5,334.0 1426.6,334.4 1417.0,332.8 1411.4,330.2 1400.8,328.5 1392.7,328.1 1384.0,327.6 1377.1,326.5 1370.3,327.7 1364.6,328.6 1354.9,328.6 1347.4,329.0 1339.3,328.8 1334.4,329.8 1326.3,330.1 1318.7,330.4 1310.7,328.9 1304.2,328.4 1295.8,328.6 1287.6,327.3 1279.2,326.5 1271.5,323.1 1262.8,319.6 1255.3,319.1 1248.8,316.4 1241.7,314.8 1235.1,313.7 1231.9,311.1 1228.6,310.2 1229.6,311.4 1241.4,313.1 1253.1,313.1 1261.0,309.9 1263.1,303.6 1264.8,300.5 1264.7,293.1 1264.2,285.4 1262.4,276.1 1264.9,266.5 1266.0,257.5 1264.2,249.0 1264.5,243.8 1263.2,238.2 1262.9,231.2 1264.9,221.6 1264.5,214.3 1262.4,206.1 1264.3,199.8 1260.2,193.1 1262.4,185.3 1259.2,179.1 1259.5,170.0 1259.1,160.0 1258.3,150.7 1256.2,143.5 1255.0,135.4 1252.8,127.3 1252.1,125.1 1252.6,130.3 1252.2,142.6 1248.2,143.9 1250.6,141.0 1257.0,141.9 1265.8,138.2 1274.1,137.4 1285.2,133.2 1291.7,131.4 1293.0,131.5 1290.8,129.4 1283.6,130.7 1275.8,130.3 1266.5,130.7 1256.5,132.3 1248.2,132.4 1241.6,131.4 1234.1,125.2 1234.4,124.0 1237.7,129.4 1243.3,142.0 1248.0,146.4 1247.5,142.1 1244.7,133.7 1241.4,126.5 1240.2,119.9 1238.7,122.6 1240.1,129.5 1244.2,129.4 1253.9,127.2 1263.8,126.6 1269.2,126.3 1275.7,128.1 1280.9,131.1 1290.4,134.2 1298.4,135.9 1304.8,138.7 1311.8,140.8 1316.4,142.8 1322.5,144.0 1329.8,145.2 1339.0,148.2 1348.9,147.7 1354.8,147.1 1361.3,146.6 1368.2,146.1 1376.9,145.6 1385.9,143.2 1391.5,143.0 1401.8,141.0 1410.5,140.8 1416.1,138.9 1424.4,138.3 1430.8,136.5 1436.0,135.5 1440.2,135.5 1442.7,132.0 1435.0,135.3 1433.4,142.1 1433.3,153.7 1435.1,163.5 1430.8,167.1 1434.1,166.0 1432.9,156.1 1433.5,145.0 1431.2,140.3 1424.1,133.6 1417.9,131.7 1406.5,129.7 1401.3,130.5 1394.5,129.3 1386.7,131.7 1380.6,130.1 1373.9,130.4 1364.8,130.2 1357.4,132.9 1350.2,133.1 1344.5,132.3 1335.3,131.2 1325.1,128.1 1316.3,122.3 1309.2,121.2 1307.3,124.7 1306.9,129.0 1310.0,132.6 1312.4,137.9 1317.2,145.0 1320.1,152.6 1325.3,159.5 1329.4,168.2 1332.9,176.1 1337.6,183.9 1337.7,193.2 1336.7,198.7 1337.3,207.0 1333.1,211.2 1331.6,217.0 1326.1,221.5 1323.0,225.1 1317.7,231.4 1313.0,237.6 1306.2,241.6 1300.4,245.6 1295.4,253.2 1289.1,257.1 1281.1,263.6 1275.3,268.0 1269.0,271.9 1263.7,276.0 1257.6,283.6 1252.1,287.6 1245.6,290.4 1241.7,295.2 1239.8,297.8 1236.5,302.2 1229.6,313.0 1229.8,321.1 1231.9,329.3 1234.9,332.3 1236.7,336.8 1230.1,331.4 1230.1,321.9 1234.8,321.4 1240.4,319.8 1249.0,317.9 1256.1,316.0 1263.9,315.1 1271.6,312.4 1279.4,311.4 1288.0,310.1 1293.7,310.1 1305.9,305.6 1317.3,303.5 1325.2,300.1 1323.4,301.3 1320.7,301.5 1313.9,303.4 1306.9,303.6 1296.6,306.9 1286.9,309.9 1276.8,310.9 1268.6,314.8 1258.1,314.0 1249.2,315.8 1243.5,316.4 1238.9,315.9 1235.1,314.7 1235.0,314.8 1239.1,312.8 1244.3,310.5 1249.7,307.0 1257.1,302.5 1266.8,299.0 1275.2,293.8 1281.3,290.3 1289.5,284.4 1295.4,276.6 1303.0,268.8 1301.3,263.6 1303.5,258.4 1304.9,252.3 1305.7,245.3 1305.2,238.6 1306.3,231.5 1305.6,221.4 1304.5,214.1 1306.5,206.6 1305.7,197.9 1305.8,190.1 1306.5,181.3 1306.6,174.9 1307.6,170.0 1307.9,161.9 1310.1,156.5 1314.1,151.8 1315.4,146.3 1318.4,145.2 1325.1,140.7 1333.6,141.3 1339.2,140.4 1347.5,139.4 1354.9,138.8 1365.0,141.8 1372.6,143.1 1381.4,144.7 1388.2,143.6 1396.6,147.0 1402.4,147.8 1407.0,151.0 1412.9,148.1 1423.1,151.6 1420.7,149.3 1423.9,142.5 1424.9,133.8 1426.6,130.3 1432.1,134.1 1429.1,141.5 1421.7,141.8 1418.1,139.5 1410.9,136.3 1404.9,136.0 1395.7,133.0 1388.1,130.8 1377.1,131.0 1373.8,130.5 1365.0,131.5 1358.9,131.1 1349.6,132.7 1341.5,134.1 1331.8,135.1 1326.1,133.5 1316.7,135.4 1310.0,137.2 1304.3,137.0 1298.3,139.8 1291.9,139.6 1279.0,137.2 1272.9,132.2 1266.8,131.6 1258.0,127.3 1247.5,128.6 1241.1,130.4 1239.6,134.6 1238.8,140.6 1247.6,154.1 1249.1,156.9 1256.1,160.5 1261.1,166.4 1265.8,171.6 1272.7,177.6 1279.7,184.7 1285.6,189.9 1293.1,197.5 1299.4,204.1 1306.4,210.0 1311.1,215.6 1314.5,217.9 1318.6,221.1 1320.6,223.9 1321.9,222.8 1320.3,222.1 1318.3,218.9 1314.3,214.9 1308.3,210.3 1304.3,203.8 1298.9,196.0 1289.9,190.9 1282.2,182.7 1274.5,175.3 1268.7,168.4 1261.9,160.4 1255.9,156.7 1250.5,151.5 1247.2,147.7 1243.4,145.9 1243.8,146.0 1244.1,148.6 1244.1,151.3 1245.6,155.4 1246.9,161.6 1247.5,167.6 1251.1,174.2 1255.3,182.0 1258.1,189.3 1263.1,198.1 1268.0,204.7 1270.1,216.0 1275.3,223.0 1280.8,230.8 1283.8,239.9 1289.3,245.2 1295.6,251.9 1299.5,258.5 1304.5,263.4 1310.2,267.2 1313.9,268.4 1318.6,268.0 1323.8,268.5 1329.1,267.1 1332.3,265.6 1338.1,260.0 1343.3,255.7 1350.0,253.0 1354.4,248.6 1359.9,241.3 1367.4,235.1 1372.9,228.7 1378.2,224.7 1383.3,215.6 1390.0,209.2 1394.5,203.3 1401.7,195.4 1407.6,189.0 1412.3,182.0 1417.2,174.1 1420.6,168.6 1424.7,163.6 1428.8,157.2 1433.7,153.8 1437.7,150.7 1438.4,147.3 1442.1,143.0 1442.7,139.0 1422.3,149.9 1418.0,146.5 1410.1,143.0 1402.9,140.3 1394.0,135.5 1386.2,131.2 1380.4,130.1 1373.2,127.5 1366.1,128.3 1360.4,127.9 1352.0,126.4 1344.6,129.3 1338.0,128.9 1329.9,129.7 1324.7,131.6 1317.8,131.4 1311.1,133.2 1302.9,133.3 1296.1,132.9 1288.3,134.4 1279.5,133.6 1270.7,133.6 1264.7,133.1 1254.9,133.1 1249.3,132.5 1244.1,133.1 1246.5,133.9 1253.5,137.6 1251.6,146.7 1247.5,158.8 1245.5,164.9 1244.4,160.2 1244.9,151.2 1244.7,142.2 1244.7,133.4 1245.7,128.8 1255.8,126.9 1261.4,125.7 1266.6,125.8 1276.8,124.0 1286.8,123.6 1297.4,123.3 1305.1,126.0 1313.2,125.6 1317.4,125.9 1322.4,129.5 1321.6,133.5 1317.5,141.6 1312.9,148.8 1302.9,155.5 1298.7,162.9 1292.7,166.3 1292.3,167.5 1293.8,165.6 1297.1,163.1 1300.6,158.7 1307.2,152.2 1313.6,144.8 1319.5,140.4 1326.3,133.6 1334.0,130.1 1339.4,126.6 1346.6,122.8 1353.5,123.0 1361.6,122.4 1369.7,122.3 1378.8,122.8 1384.6,123.9 1392.4,124.2 1400.6,122.8 1408.4,123.2 1419.3,122.3 1425.5,122.0 1433.9,120.4 1439.9,123.4 1445.1,124.0 1447.9,130.3 1444.5,139.7 1443.3,147.2 1440.2,152.0 1440.2,147.3 1439.5,136.1 1439.7,128.1 1441.7,127.4 1433.9,128.6 1430.7,130.2 1423.9,129.4 1419.0,130.1 1410.9,129.1 1403.6,126.5 1395.6,126.5 1388.5,125.0 1378.9,126.3 1372.5,125.9 1363.2,126.2 1357.6,128.7 1350.8,131.6 1346.4,135.7 1341.4,140.0 1336.1,144.9 1331.4,150.3 1326.8,157.1 1323.0,162.9 1320.9,169.7 1318.2,176.9 1316.1,185.6 1312.3,194.3 1309.7,201.8 1310.9,207.3 1310.0,214.7 1310.1,221.6 1308.1,230.7 1310.7,237.9 1309.5,246.8 1311.1,258.2 1311.3,264.7 1313.8,274.4 1313.2,284.0 1313.6,290.6 1315.5,299.0 1317.4,306.8 1317.5,311.7 1317.0,316.8 1318.5,319.1 1319.5,320.6 1319.5,320.6 1319.5,315.9 1322.0,308.8 1321.5,301.1 1323.9,290.4 1326.0,278.7 1325.1,267.6 1325.3,258.4 1323.9,247.5 1323.7,240.3 1321.7,233.6 1318.2,231.8 1316.1,232.7 1313.6,235.2 1308.2,238.6 1302.1,243.0 1297.6,246.8 1291.6,252.7 1285.3,260.6 1277.3,266.5 1271.1,275.6 1266.4,280.8 1260.3,290.0 1254.8,295.8 1249.1,301.1 1246.2,304.3 1242.4,309.1 1235.2,321.8 1235.1,327.1 1240.9,329.1 1247.6,329.8 1254.6,327.9 1261.7,327.2 1270.4,325.5 1278.8,323.5 1287.8,321.6 1294.7,322.2 1301.2,322.3 1308.5,322.5 1315.3,322.4 1324.7,322.5 1331.7,323.6 1340.8,322.5 1346.0,322.9 1356.6,322.3 1363.5,322.5 1371.5,322.9 1378.6,320.5 1388.1,320.4 1395.9,320.7 1403.2,320.9 1409.5,318.8 1419.3,321.8 1423.8,320.1 1426.2,318.8 1435.1,323.9 1433.6,320.7 1435.6,315.1 1440.2,306.9 1446.7,299.7 1449.9,290.1 1448.6,283.6 1441.9,276.1 1437.3,274.6 1432.1,271.3 1428.1,269.2 1420.7,267.9 1414.9,267.0 1405.2,262.4 1397.8,259.5 1389.3,257.9 1382.9,255.4 1373.8,252.2 1365.3,251.9 1356.2,249.0 1348.6,246.1 1340.2,244.6 1332.2,245.0 1324.7,243.7 1316.7,242.9 1311.2,244.0 1304.1,242.1 1300.0,242.2 1296.5,246.0 1288.4,248.2 1283.8,253.7 1282.2,259.0 1279.1,265.5 1275.9,273.3 1273.8,282.6 1273.1,290.5 1272.3,300.3 1273.4,307.6 1275.0,316.1 1272.6,323.0 1276.0,327.9 1277.1,333.0 1280.9,338.2 1284.4,339.3 1291.0,338.2 1298.7,337.9 1305.8,332.4 1316.7,332.9 1326.2,331.4 1330.6,332.4 1337.5,332.7 1345.1,334.4 1353.3,333.9 1361.0,334.8 1369.9,335.3 1378.5,335.6 1386.7,334.4 1394.8,334.3 1402.0,336.5 1409.0,336.3 1414.7,336.5 1421.3,339.1 1432.4,337.8 1440.8,339.4 1447.3,338.6 1451.1,336.5 1454.5,332.9 1454.0,328.1 1452.1,314.6 1448.7,309.3 1446.6,303.5 1443.4,297.1 1438.1,288.4 1435.0,282.5 1432.1,273.1 1429.6,266.4 1427.3,257.9 1425.4,252.4 1423.6,246.6 1423.3,237.3 1425.0,229.9 1428.2,222.2 1429.8,217.3 1432.8,210.5 1435.5,204.4 1437.3,196.2 1439.1,188.2 1440.8,178.9 1440.9,173.6 1439.7,170.1 1438.9,170.6 1436.4,179.9 1431.9,190.6 1429.1,195.1 1426.7,201.5 1421.6,210.1 1419.4,215.1 1415.4,221.6 1413.6,228.9 1414.2,235.0 1413.9,243.0 1417.2,252.1 1424.3,262.6 1428.3,271.2 1430.8,278.2 1429.1,283.5 1421.2,285.7 1420.0,285.2 1414.8,284.1 1408.3,282.4 1402.7,280.7 1395.3,277.8 1389.8,276.0 1380.5,275.0 1372.1,272.4 1364.1,268.8 1355.3,266.1 1347.4,261.5 1337.4,258.1 1330.4,253.7 1321.7,251.3 1315.0,246.7 1307.5,243.1 1301.4,239.8 1296.8,236.3 1291.6,232.7 1289.1,227.9 1286.5,224.7 1285.7,218.8 1286.0,215.4 1290.1,208.4 1290.8,202.8 1294.8,196.0 1298.5,190.2 1305.3,185.3 1312.0,177.9 1317.3,172.6 1323.7,166.5 1331.8,160.2 1337.1,154.2 1343.4,148.9 1348.2,145.2 1352.6,140.5 1355.8,138.5 1366.2,129.6 1374.0,130.0 1380.3,134.1 1390.0,134.3 1395.5,135.8 1404.4,135.1 1412.7,134.7 1422.5,135.5 1431.7,136.7 1434.6,134.8 1446.0,127.4 1442.2,123.6 1441.0,126.1 1436.6,129.6 1432.8,131.5 1427.5,137.0 1421.7,141.3 1416.8,145.7 1410.0,148.7 1402.6,154.6 1395.5,157.2 1387.7,162.1 1380.6,162.4 1370.7,167.1 1365.3,167.5 1359.7,166.9 1352.9,168.2 1345.4,166.7 1336.6,167.0 1331.6,165.0 1320.7,165.5 1314.7,164.4 1303.8,164.3 1297.2,163.1 1288.9,161.6 1280.8,160.5 1274.7,159.6 1267.2,157.2 1261.7,157.9 1256.0,156.4 1251.3,153.6 1249.5,153.3 1238.3,144.2 1247.6,136.6 1253.8,132.4 1266.0,133.1 1272.4,134.5 1278.0,136.2 1287.5,139.8 1293.6,142.9 1302.5,144.1 1309.8,145.9 1319.2,147.1 1325.2,148.5 1332.0,147.6 1339.9,146.3 1345.2,142.4 1351.9,139.3 1359.5,136.1 1364.9,132.2 1370.8,132.1 1379.2,128.7 1386.5,129.0 1392.4,128.8 1401.2,129.3 1409.2,131.3 1416.2,131.2 1424.0,134.6 1431.2,134.2 1436.1,138.8 1440.9,136.1 1440.6,134.8 1432.4,135.4 1438.7,127.3 1442.8,127.3 1443.0,131.7 1443.5,139.9 1440.9,145.1 1441.0,153.1 1439.3,160.5 1437.3,170.2 1435.5,179.3 1433.5,187.1 1433.5,196.2 1433.8,202.5 1432.1,206.8 1430.5,218.5 1432.2,222.9 1434.5,231.2 1434.6,237.5 1436.1,245.0 1437.6,253.1 1440.2,263.6 1441.3,272.1 1442.7,280.7 1445.3,288.2 1445.1,291.8" fill="none" stroke="#120806" stroke-width="1.25" stroke-linejoin="round" opacity="0.95"/>
<polygon points="1278.40,171.80 1395.80,171.80 1396.60,287.60 1278.40,287.60" fill="#6266b2" opacity="0.45"/>
<rect x="1506.3" y="82.2" width="259.30" height="275.60" fill="#808080"/>
<polygon points="1515.30,102.20 1745.60,104.60 1753.10,347.00 1515.30,347.80" fill="#c02228" stroke="#6f8187" stroke-width="2.2"/>
<polygon points="1515.30,102.20 1745.60,104.60 1753.10,347.00 1515.30,347.80" fill="#c02228"/>
<polygon points="1572.20,164.40 1683.40,164.40 1687.50,282.20 1572.20,282.20" fill="#6266b2"/>
<path d="M1562.1,179.8 1561.9,175.2 1558.8,170.0 1556.1,159.9 1553.5,153.4 1550.5,143.0 1550.2,135.7 1547.1,129.3 1546.2,122.4 1545.1,118.7 1540.8,124.1 1544.6,135.0 1550.1,129.9 1557.4,121.2 1565.2,117.1 1569.9,122.9 1571.2,125.9 1570.6,131.6 1568.5,137.8 1568.8,142.9 1567.8,149.9 1564.2,158.3 1564.2,166.8 1561.1,173.1 1559.9,182.7 1557.8,193.6 1555.6,200.3 1555.9,209.6 1552.9,217.5 1553.4,225.7 1552.2,232.0 1552.4,241.5 1553.8,248.1 1553.6,253.5 1557.6,258.3 1560.4,262.0 1562.4,265.8 1568.6,266.5 1573.6,268.1 1579.1,271.0 1585.2,271.3 1592.5,271.6 1600.0,273.2 1607.9,271.8 1615.1,272.5 1623.7,270.9 1631.2,270.1 1639.0,269.9 1646.8,268.8 1657.5,268.6 1664.1,268.4 1672.4,266.5 1679.9,265.8 1687.1,265.3 1695.2,265.2 1699.3,264.0 1704.6,264.0 1711.3,264.4 1715.4,264.8 1718.0,265.7 1726.8,270.7 1728.7,278.1 1727.7,285.8 1724.0,292.4 1718.3,301.9 1716.0,307.6 1713.7,312.4 1715.1,313.2 1713.8,306.1 1710.3,311.8 1706.7,313.9 1696.5,317.2 1692.0,319.8 1687.7,318.9 1679.1,319.1 1672.2,316.9 1665.4,318.8 1657.1,318.4 1649.5,318.4 1643.1,318.7 1635.7,318.1 1628.3,318.0 1623.2,316.1 1619.2,317.9 1607.8,318.6 1603.8,317.8 1594.1,316.4 1588.0,316.8 1581.0,314.6 1572.7,316.4 1562.7,312.4 1554.3,313.5 1545.4,312.7 1538.5,313.2 1532.4,312.3 1528.0,312.1 1535.7,311.5 1546.9,311.0 1545.4,306.8 1538.8,294.7 1536.0,291.9 1536.2,287.3 1533.0,278.6 1533.5,268.5 1532.7,262.1 1533.4,257.2 1531.2,252.0 1532.6,243.2 1529.8,235.6 1530.7,226.7 1531.0,219.0 1530.7,209.4 1530.1,203.4 1530.0,195.6 1529.7,189.0 1530.0,184.4 1530.7,174.4 1529.4,164.9 1531.9,159.4 1532.2,153.5 1532.0,147.4 1535.2,142.8 1536.9,133.2 1540.9,124.3 1546.2,118.8 1547.4,115.8 1546.8,120.1 1545.3,131.7 1548.9,138.6 1552.0,138.2 1556.5,137.1 1561.4,136.6 1568.4,133.4 1575.3,130.7 1579.9,129.4 1587.4,125.5 1596.0,125.1 1604.1,122.5 1610.0,123.3 1615.8,124.4 1623.1,125.0 1630.1,124.9 1637.4,126.4 1644.7,126.3 1654.2,129.3 1661.2,129.5 1667.6,129.5 1674.8,131.7 1680.7,132.6 1685.9,132.4 1691.1,134.6 1696.4,134.4 1709.5,131.8 1714.5,126.1 1717.5,121.9 1723.1,118.0 1727.5,123.4 1726.7,128.3 1728.6,132.0 1730.4,137.7 1730.6,145.1 1731.0,152.1 1732.7,160.1 1733.8,168.2 1733.2,177.5 1733.3,184.9 1731.5,193.1 1730.9,199.0 1730.2,204.5 1727.2,212.0 1724.7,220.0 1722.5,225.6 1721.0,234.3 1717.5,240.0 1715.6,247.2 1715.8,252.0 1716.2,261.6 1717.8,271.5 1721.1,280.5 1724.4,289.2 1727.8,296.2 1728.9,301.1 1730.9,302.4 1730.6,299.9 1731.2,295.4 1730.9,286.9 1731.2,278.5 1730.3,268.5 1727.1,261.6 1726.6,250.6 1725.9,245.4 1721.7,239.1 1713.7,233.9 1711.0,228.5 1706.2,218.7 1707.6,212.8 1707.9,207.2 1710.3,199.3 1712.4,192.3 1715.6,184.1 1718.3,176.4 1719.7,168.9 1721.1,162.3 1723.1,157.5 1723.7,146.7 1725.2,137.8 1722.7,134.0 1721.9,128.4 1729.1,126.2 1726.7,129.2 1723.6,128.8 1719.5,129.0 1711.4,131.9 1705.5,131.6 1698.5,132.4 1690.2,132.0 1684.4,132.8 1675.3,134.0 1668.3,133.1 1659.8,134.2 1653.1,134.5 1646.2,134.9 1637.1,135.4 1630.4,133.6 1623.2,135.3 1615.4,134.9 1608.7,134.5 1600.7,134.1 1592.5,133.9 1585.9,133.5 1578.0,133.4 1572.7,133.4 1567.8,133.0 1564.2,132.4 1551.9,132.5 1544.8,135.1 1542.2,133.2 1543.9,119.4 1548.5,115.4 1548.7,118.4 1547.9,123.4 1544.2,132.4 1543.8,138.4 1541.1,147.3 1539.7,156.3 1538.4,167.8 1537.1,174.2 1537.3,181.8 1539.3,191.5 1540.4,196.3 1543.5,202.7 1549.0,201.0 1551.5,203.2 1557.0,204.0 1563.3,202.4 1571.5,201.2 1579.1,200.0 1585.7,198.1 1592.4,195.9 1599.9,194.0 1607.5,191.6 1616.2,190.0 1623.8,189.5 1630.5,189.2 1637.7,188.5 1643.9,189.1 1649.2,190.0 1654.9,194.5 1658.1,198.5 1659.9,203.3 1665.8,207.9 1667.8,214.5 1670.1,220.6 1672.4,227.8 1675.2,235.7 1678.9,243.6 1680.3,252.4 1682.6,260.8 1684.4,268.5 1686.3,278.2 1688.0,284.2 1688.6,291.1 1689.0,298.9 1690.3,305.8 1690.4,313.2 1690.9,319.0 1690.1,322.6 1690.2,326.5 1687.6,332.5 1681.8,333.9 1675.4,335.2 1668.7,334.6 1660.6,330.9 1652.3,330.0 1642.7,325.6 1635.2,325.0 1626.6,323.8 1619.9,322.1 1610.1,322.9 1602.6,321.1 1593.7,318.7 1584.1,318.9 1578.4,318.4 1571.1,318.1 1567.6,316.5 1564.2,317.3 1565.2,318.5 1569.1,318.2 1576.2,320.2 1584.0,322.8 1593.3,324.3 1600.7,325.3 1612.3,326.4 1617.6,327.1 1624.4,326.9 1630.9,325.5 1639.7,327.1 1646.3,326.9 1652.6,326.1 1661.1,325.8 1668.3,325.8 1676.7,326.8 1682.8,325.5 1689.6,325.9 1694.7,325.6 1700.0,325.6 1712.7,324.2 1721.0,326.6 1728.8,326.8 1730.3,325.0 1731.2,331.2 1719.6,325.7 1717.7,322.5 1715.0,316.5 1711.9,311.5 1711.9,304.9 1706.7,296.6 1703.2,289.0 1701.0,280.8 1699.0,271.8 1696.2,262.8 1692.2,256.0 1688.4,247.9 1686.9,240.8 1681.8,232.8 1678.1,228.4 1674.7,224.7 1670.2,223.1 1666.0,220.6 1663.7,221.8 1658.7,222.7 1650.4,225.5 1647.3,227.9 1639.8,232.4 1634.8,237.9 1629.5,243.2 1622.5,248.3 1616.3,255.7 1610.1,264.1 1604.3,268.2 1596.6,276.1 1592.7,281.9 1588.4,288.1 1584.6,293.9 1581.2,299.3 1580.4,304.4 1577.1,308.1 1575.8,312.2 1577.8,315.3 1579.9,318.1 1586.1,319.7 1592.9,321.6 1601.7,323.3 1610.0,325.4 1619.5,323.8 1628.4,325.2 1638.2,323.5 1646.9,325.2 1654.6,324.7 1662.0,324.4 1666.6,322.0 1674.3,318.7 1682.3,310.2 1685.5,303.1 1689.9,296.6 1693.7,292.8 1697.8,288.9 1702.1,292.5 1706.4,295.6 1713.0,305.3 1717.9,313.2 1723.3,320.3 1728.2,326.7 1732.8,331.4 1734.0,334.4 1734.9,331.4 1732.3,328.5 1728.3,320.7 1724.7,312.0 1721.6,301.5 1719.8,290.2 1719.6,284.3 1719.8,277.8 1720.0,271.3 1720.6,264.4 1719.7,257.5 1720.9,249.7 1719.7,240.5 1722.3,234.3 1721.6,227.6 1722.5,218.8 1723.1,211.9 1722.5,206.0 1725.0,197.6 1724.6,192.2 1723.3,183.8 1723.3,174.4 1722.9,166.8 1724.0,158.6 1723.4,151.9 1722.5,145.5 1720.4,140.3 1722.6,135.4 1721.5,128.5 1720.3,129.7 1725.5,128.2 1721.0,127.4 1715.0,125.1 1709.8,125.3 1701.4,124.8 1694.4,124.8 1685.4,121.0 1676.7,123.3 1670.6,122.6 1662.9,124.4 1655.9,125.6 1649.0,127.1 1641.0,129.6 1634.1,132.5 1627.1,137.8 1624.8,147.1 1624.7,157.1 1625.2,160.9 1626.7,165.5 1628.1,170.7 1629.1,176.2 1631.1,182.6 1633.6,190.3 1637.6,196.4 1637.2,205.0 1641.9,210.9 1644.1,218.1 1647.3,226.6 1651.1,234.6 1654.3,241.7 1657.9,248.9 1660.9,255.0 1664.5,262.6 1667.9,269.5 1669.8,275.7 1672.5,282.5 1676.1,286.7 1679.6,291.7 1680.9,296.3 1683.9,299.3 1691.4,310.4 1700.0,315.5 1707.4,315.0 1712.3,315.9 1718.2,316.3 1722.0,315.2 1723.6,314.7 1719.5,316.5 1724.6,323.9 1728.4,334.6 1729.2,335.6 1731.1,332.1 1731.4,326.5 1730.9,320.7 1732.0,314.5 1732.2,308.2 1732.6,299.1 1732.1,290.3 1731.1,284.5 1731.4,274.4 1729.6,267.4 1728.8,260.5 1726.3,253.2 1725.7,249.1 1722.0,242.0 1719.7,233.7 1715.1,227.5 1709.0,220.7 1704.9,214.5 1697.7,209.5 1693.0,205.5 1685.0,203.3 1680.6,203.7 1672.0,205.8 1670.1,209.4 1666.9,211.3 1661.9,215.6 1658.5,219.3 1653.9,224.5 1649.3,230.1 1646.1,236.2 1640.8,242.1 1634.1,247.7 1631.2,256.1 1626.1,262.7 1620.5,269.0 1617.5,276.6 1612.0,283.5 1608.2,290.8 1604.3,297.0 1600.7,303.3 1598.8,309.6 1593.8,315.8 1590.5,320.1 1590.4,324.7 1587.6,328.3 1585.4,332.0 1584.3,336.0 1592.5,336.0 1605.9,333.4 1615.5,327.7 1621.2,323.8 1628.8,322.8 1633.7,318.4 1640.3,316.3 1647.4,314.3 1654.5,315.8 1661.6,316.7 1670.4,317.4 1676.0,319.9 1684.8,322.7 1691.6,323.0 1697.4,324.9 1704.0,326.8 1713.8,326.5 1722.4,328.3 1727.6,329.4 1732.2,326.3 1732.9,319.5 1733.2,311.8 1731.1,301.5 1728.0,293.5 1728.0,288.1 1727.0,281.6 1722.9,275.7 1720.7,264.5 1718.4,259.6 1715.6,253.2 1713.7,244.5 1710.3,237.0 1709.0,229.0 1706.2,219.9 1704.0,209.7 1701.5,201.2 1697.6,194.3 1697.0,186.6 1693.9,181.1 1692.2,176.4 1692.4,172.9 1691.6,171.9 1692.7,173.8 1694.4,176.4 1696.1,182.7 1699.2,188.1 1701.5,196.8 1703.7,206.4 1707.9,214.2 1710.6,223.3 1712.7,232.2 1716.0,242.2 1718.7,249.6 1723.8,257.3 1724.9,262.3 1727.3,267.3 1727.6,269.8 1729.9,270.1 1728.2,269.2 1728.6,262.5 1725.6,255.6 1723.8,245.7 1721.3,235.0 1718.5,224.8 1719.3,216.4 1719.0,210.4 1717.4,201.8 1718.4,194.7 1717.3,187.2 1718.5,179.7 1719.7,169.9 1719.2,161.8 1718.7,152.8 1720.1,147.0 1720.3,141.9 1720.1,137.3 1723.3,129.9 1721.3,132.1 1716.5,129.3 1711.5,130.3 1705.1,129.7 1697.1,126.3 1690.5,127.8 1683.2,128.2 1674.5,125.1 1664.8,125.7 1659.4,124.2 1653.3,124.8 1648.1,123.7 1641.8,121.8 1633.0,122.4 1626.4,122.6 1619.0,121.2 1613.7,121.2 1605.7,121.3 1599.9,119.2 1594.8,120.3 1587.5,120.0 1579.5,120.0 1570.1,119.0 1563.9,120.0 1554.1,118.4 1547.2,120.2 1540.0,119.4 1534.1,119.6 1530.4,119.8 1527.5,120.2 1530.1,126.3 1532.2,131.6 1531.7,136.3 1533.5,145.0 1534.9,152.4 1535.9,160.9 1536.7,168.2 1537.7,177.3 1537.8,184.0 1537.5,193.4 1537.3,201.8 1536.4,207.7 1535.4,214.9 1535.8,223.7 1534.3,230.9 1534.7,239.1 1533.6,246.1 1532.8,253.9 1533.7,261.2 1533.8,267.7 1533.4,274.7 1534.4,281.6 1535.8,289.6 1535.6,296.3 1533.4,304.1 1535.2,314.3 1535.0,319.1 1533.9,324.0 1533.6,324.7 1541.0,319.4 1545.1,318.3 1551.4,316.6 1556.6,315.7 1563.8,315.3 1571.0,316.0 1580.1,316.2 1585.9,313.3 1593.5,313.4 1601.4,313.6 1608.5,312.8 1618.0,314.8 1625.1,314.2 1634.7,315.5 1644.3,315.6 1652.7,317.1 1661.9,316.7 1669.5,317.7 1675.4,318.9 1679.4,320.8 1678.8,321.5 1677.7,319.0 1675.6,321.2 1669.0,321.4 1663.0,323.4 1656.1,325.2 1648.3,326.6 1640.9,327.5 1632.2,328.1 1621.9,329.0 1614.1,327.9 1607.0,325.8 1600.1,324.2 1594.1,319.0 1590.6,317.1 1587.4,312.3 1584.7,305.9 1581.3,300.9 1579.0,294.9 1575.4,288.2 1572.6,282.6 1568.6,273.9 1569.6,267.8 1566.7,258.8 1564.5,251.3 1561.8,243.5 1559.0,236.6 1558.5,229.1 1556.9,223.1 1554.6,215.7 1551.9,210.7 1550.1,205.9 1548.0,196.4 1546.7,187.0 1543.7,179.7 1542.5,170.3 1540.1,164.3 1540.9,156.4 1539.4,150.5 1539.2,145.3 1537.1,140.7 1537.7,136.2 1534.3,126.9 1537.3,127.4 1541.6,124.3 1552.5,124.4 1560.9,121.3 1570.9,120.1 1572.6,120.7 1569.4,119.6 1561.7,119.8 1552.1,117.9 1545.5,120.5 1535.8,119.1 1530.6,119.7 1530.9,123.3 1535.7,129.8 1535.7,134.7 1538.4,141.7 1541.8,149.1 1541.7,156.1 1541.1,162.5 1540.1,168.8 1539.8,175.9 1539.8,183.6 1536.9,190.3 1537.4,200.6 1536.5,205.8 1536.9,211.6 1537.4,220.2 1535.8,227.6 1535.9,233.7 1537.5,240.8 1538.3,251.2 1537.3,256.8 1537.9,261.8 1538.8,268.4 1536.8,276.1 1535.5,285.2 1533.2,290.4 1532.8,297.2 1532.3,302.0 1531.4,308.4 1530.1,317.4 1529.8,324.5 1531.9,328.6 1537.4,329.4 1546.5,329.9 1554.5,329.9 1557.2,329.0 1554.2,329.4 1545.8,331.6 1536.2,331.9 1529.8,330.6 1529.9,324.8 1530.7,318.0 1531.9,310.2 1533.2,301.4 1537.5,295.8 1537.5,287.5 1539.1,278.0 1540.0,264.7 1541.0,259.7 1540.7,257.2 1540.4,260.5 1539.9,265.8 1541.4,274.1 1542.1,283.0 1541.2,291.2 1540.9,299.1 1540.8,308.6 1541.4,314.8 1540.9,317.2 1539.8,313.6 1539.4,300.5 1550.8,301.6 1558.5,301.3 1557.3,296.4 1553.5,292.1 1548.1,284.4 1544.7,278.2 1540.1,265.6 1539.6,261.1 1538.6,252.5 1538.5,247.9 1536.4,240.6 1535.3,232.3 1536.3,226.0 1534.6,217.3 1532.7,209.3 1532.8,201.2 1532.8,193.9 1531.2,185.9 1531.8,178.7 1530.3,174.0 1533.7,168.8 1534.6,160.9 1538.7,150.8 1545.0,141.4 1549.6,137.6 1555.0,133.5 1559.3,129.9 1562.7,127.8 1564.9,132.1 1565.1,146.7 1563.4,153.5 1556.2,152.9 1545.6,149.1 1542.0,143.8 1546.5,139.7 1554.1,135.5 1562.0,131.7 1563.1,127.8 1561.4,125.3 1552.6,126.4 1543.9,126.8 1537.6,127.1 1537.0,133.5 1536.1,141.6 1536.9,147.3 1536.1,161.1 1537.8,164.4 1539.0,173.3 1539.3,175.7 1541.3,184.0 1540.8,189.7 1543.1,198.6 1544.2,204.5 1544.5,213.5 1546.4,222.4 1547.9,229.8 1548.7,235.7 1547.9,243.8 1547.5,251.4 1549.2,259.5 1549.7,269.2 1546.8,275.7 1546.9,285.2 1546.8,291.2 1548.2,299.7 1545.3,306.3 1546.4,312.9 1543.3,319.1 1543.0,323.7 1543.6,328.3 1540.6,328.0 1541.4,316.0 1550.4,314.5 1560.1,315.2 1566.2,314.5 1561.2,315.2 1551.8,313.0 1544.7,315.5 1542.4,324.4 1540.6,334.6 1540.7,335.2 1540.1,331.9 1539.0,325.5 1541.1,318.9 1540.6,314.0 1540.8,305.3 1541.4,295.9 1541.3,286.9 1541.8,278.9 1543.5,272.5 1543.1,263.1 1543.4,255.0 1544.2,250.9 1548.7,240.5 1550.8,236.9 1555.9,233.2 1559.4,228.3 1560.1,221.4 1561.2,215.6 1559.7,208.0 1559.7,199.2 1558.7,190.4 1557.0,182.1 1555.4,174.7 1554.1,167.8 1553.6,162.0 1552.5,148.6 1553.3,144.0 1542.4,144.6 1536.6,147.8 1540.8,147.6 1543.1,145.9 1550.0,145.0 1556.9,142.7 1567.1,141.7 1575.2,141.1 1579.8,142.3 1587.1,143.0 1592.7,142.9 1600.4,144.6 1607.8,146.5 1616.3,146.7 1622.5,148.6 1630.2,150.4 1638.3,149.7 1643.1,149.3 1648.5,149.7 1656.9,148.4 1665.2,146.5 1670.0,142.5 1678.8,140.2 1683.0,137.7 1687.7,135.6 1693.3,135.9 1702.4,130.7 1711.6,132.0 1716.5,134.2 1719.7,137.3 1723.1,142.5 1725.3,147.7 1728.1,156.0 1728.6,166.9 1731.2,172.9 1730.6,177.8 1731.8,184.5 1730.7,191.3 1730.3,197.9 1729.9,206.9 1730.0,215.5 1729.3,222.3 1729.6,228.7 1730.0,236.5 1730.5,245.1 1730.5,250.4 1728.8,257.7 1731.8,264.3 1731.2,273.2 1731.8,282.8 1733.8,289.4 1734.6,297.6 1735.3,304.2 1735.6,309.8 1736.8,315.1 1736.4,322.0 1741.5,331.1 1736.1,330.1 1733.3,331.1 1728.6,330.7 1722.1,329.7 1713.5,330.8 1705.3,331.3 1698.4,330.9 1692.4,330.5 1684.1,329.9 1676.6,329.1 1670.8,329.5 1660.3,327.9 1650.4,325.8 1641.2,324.0 1631.8,323.4 1623.2,322.9 1617.0,320.5 1615.4,319.9 1614.1,319.2 1615.2,318.2 1621.1,316.7 1625.5,316.3 1630.7,315.3 1638.8,314.9 1647.6,314.9 1656.0,314.3 1664.0,314.0 1672.9,315.1 1680.4,313.2 1689.6,312.3 1695.5,313.4 1701.3,313.4 1706.3,312.3 1716.9,311.2 1717.4,313.2 1732.2,321.1 1731.4,316.0 1728.3,313.5 1725.3,311.5 1723.0,306.1 1717.6,302.1 1712.5,297.5 1709.3,293.3 1703.5,286.4 1697.1,281.2 1691.9,276.0 1686.2,268.6 1680.2,264.6 1674.9,258.1 1668.0,252.4 1663.4,246.4 1655.6,241.7 1650.6,237.5 1644.1,232.1 1638.4,229.8 1634.0,227.4 1628.2,223.2 1623.5,222.1 1618.5,220.9 1614.0,223.3 1607.4,222.0 1600.9,224.8 1596.7,229.9 1589.7,233.9 1583.9,240.5 1578.2,244.5 1574.2,253.0 1569.1,258.8 1564.3,265.9 1559.5,272.9 1554.7,279.4 1551.4,285.7 1547.7,289.3 1546.1,296.2 1541.8,298.2 1538.7,312.7 1540.5,318.1 1537.2,323.7 1534.7,325.7 1538.6,327.7 1541.4,324.9 1554.2,323.2 1558.5,323.4 1564.4,322.9 1569.8,321.7 1575.2,320.7 1582.9,319.4 1588.5,318.1 1595.6,318.2 1605.5,316.1 1612.4,316.0 1618.0,315.9 1626.9,313.9 1633.0,312.2 1642.2,315.2 1647.9,314.1 1656.9,314.5 1662.8,315.5 1671.1,314.0 1679.7,314.2 1688.5,313.9 1694.1,314.5 1701.8,315.0 1708.1,316.1 1713.6,315.8 1719.5,315.9 1722.0,315.3 1727.1,317.4 1719.9,315.2 1721.0,312.6 1722.5,305.8 1723.0,300.3 1722.7,294.2 1725.5,287.6 1726.0,277.3 1726.6,270.9 1725.8,261.5 1726.4,256.0 1725.7,249.1 1726.8,241.2 1727.9,234.7 1726.0,228.0 1726.4,220.9 1724.8,211.2 1725.8,203.6 1724.6,197.3 1725.2,191.1 1724.6,183.1 1724.0,175.5 1724.0,169.7 1724.4,167.4 1723.0,153.3 1723.8,143.9 1724.1,137.5 1723.9,131.4 1724.4,127.2 1724.3,128.0 1722.2,130.2 1718.0,130.8 1709.0,131.0 1700.5,128.7 1694.4,127.9 1685.8,125.7 1678.3,124.9 1672.2,124.5 1661.9,118.5 1654.3,123.5 1651.8,128.5 1651.5,134.5 1649.4,140.2 1648.3,149.0 1647.0,156.7 1645.2,166.2 1643.5,174.5 1640.0,182.2 1637.6,189.4 1633.8,195.8 1629.4,198.6 1624.8,198.7 1618.9,198.8 1612.1,198.7 1605.9,196.3 1597.5,193.3 1591.1,190.7 1582.7,188.4 1574.3,184.2 1568.4,180.5 1560.3,178.5 1554.5,177.4 1547.8,177.1 1540.8,178.4 1539.6,178.9 1535.2,182.5 1531.9,187.1 1531.0,194.9 1531.6,198.9 1529.9,206.4 1531.5,213.5 1529.2,221.4 1529.9,231.6 1530.9,238.9 1531.1,246.5 1532.4,252.5 1530.8,260.1 1531.4,267.0 1531.3,275.5 1530.9,283.7 1530.6,292.6 1529.2,297.6 1530.1,308.1 1530.2,312.2 1529.0,318.4 1530.5,324.4 1531.3,327.0 1537.4,332.2 1543.2,329.7 1552.4,325.5 1557.5,324.9 1564.1,321.1 1570.7,319.4 1579.1,316.8 1588.7,318.3 1595.4,316.8 1602.6,316.0 1608.0,317.5 1616.1,315.6 1622.8,317.1 1629.9,316.6 1639.4,316.9 1646.3,316.5 1654.3,317.5 1661.9,317.5 1667.5,317.3 1673.8,318.9 1677.8,317.7 1682.3,318.5" fill="none" stroke="#120806" stroke-width="1.25" stroke-linejoin="round" opacity="0.95"/>
<polygon points="1572.20,164.40 1683.40,164.40 1687.50,282.20 1572.20,282.20" fill="#6266b2" opacity="0.45"/>
<rect x="1216.2" y="378.6" width="258.20" height="275.90" fill="#808080"/>
<polygon points="1238.80,393.00 1465.80,394.60 1464.30,641.40 1230.20,641.40" fill="#dc6a25" stroke="#6f8187" stroke-width="2.2"/>
<polygon points="1238.80,393.00 1465.80,394.60 1464.30,641.40 1230.20,641.40" fill="#dc6a25"/>
<polygon points="1293.20,457.40 1407.20,457.40 1405.60,577.60 1291.60,577.60" fill="#8652a6"/>
<path d="M1301.1,609.1 1304.6,608.0 1309.2,608.9 1316.0,609.1 1324.6,610.1 1333.1,611.5 1340.2,612.2 1348.8,611.1 1355.3,612.9 1361.5,612.2 1366.9,612.1 1376.8,615.2 1379.8,617.0 1384.5,616.9 1392.2,618.2 1398.7,617.6 1407.3,617.2 1414.4,617.5 1422.0,618.7 1430.9,616.3 1437.8,617.5 1440.4,617.3 1441.2,626.7 1435.4,617.1 1434.5,614.6 1436.9,609.1 1439.4,602.5 1441.5,596.5 1444.3,588.2 1444.8,579.1 1446.7,571.3 1450.2,560.9 1451.2,552.3 1451.0,544.2 1451.9,537.1 1450.5,530.5 1448.1,523.6 1443.5,518.8 1441.8,516.3 1437.7,510.5 1433.3,507.9 1426.2,506.2 1419.8,505.1 1412.7,500.8 1405.4,496.5 1398.1,494.2 1391.6,492.9 1383.0,490.6 1374.6,490.7 1368.9,487.2 1359.7,486.0 1351.4,485.8 1344.5,484.5 1339.4,485.8 1332.5,487.2 1325.2,488.0 1321.2,490.4 1315.8,491.0 1311.3,495.7 1308.4,499.6 1305.7,505.3 1300.2,511.6 1297.5,518.6 1293.5,525.3 1291.0,533.6 1289.7,543.3 1287.8,550.4 1286.2,560.6 1284.1,568.0 1281.8,576.5 1280.8,584.5 1280.9,594.0 1279.8,599.7 1279.3,607.6 1279.2,612.6 1280.2,619.0 1281.9,622.6 1282.2,627.2 1287.3,630.4 1292.7,632.0 1302.3,632.0 1308.8,630.9 1317.9,629.4 1326.9,628.4 1333.8,626.1 1341.5,623.2 1347.7,624.2 1356.8,624.4 1365.8,626.0 1373.7,625.4 1381.3,628.2 1390.6,629.5 1395.6,628.2 1397.6,626.0 1397.9,624.0 1398.0,623.3 1393.6,620.9 1390.3,616.9 1382.5,607.2 1374.3,592.4 1374.6,589.6 1373.6,584.3 1370.2,579.1 1368.0,574.0 1366.3,569.7 1364.7,561.5 1362.1,554.6 1359.0,548.5 1356.8,539.1 1355.1,533.1 1351.8,524.8 1348.8,516.9 1347.0,509.8 1342.6,503.2 1340.9,496.1 1338.0,486.6 1334.8,479.9 1333.4,472.0 1330.4,464.3 1327.7,458.4 1325.8,451.2 1321.3,443.5 1320.4,437.5 1317.3,431.6 1316.3,426.2 1312.9,421.5 1310.6,417.0 1308.5,411.4 1308.2,408.8 1300.6,402.5 1291.3,402.4 1283.5,402.3 1276.2,402.3 1269.4,402.2 1265.2,403.3 1259.5,406.6 1255.3,409.5 1251.3,413.1 1251.9,422.9 1252.7,431.5 1254.1,436.9 1254.3,442.8 1253.7,451.0 1253.0,457.4 1253.6,468.2 1255.9,474.0 1257.2,479.9 1258.2,487.1 1259.9,494.0 1261.4,502.0 1263.4,509.9 1264.7,517.9 1265.7,525.6 1267.9,533.0 1267.5,539.4 1266.3,547.8 1262.7,557.4 1258.6,568.9 1256.9,577.5 1254.4,585.9 1252.3,591.4 1253.6,598.4 1255.9,597.7 1258.3,597.9 1262.8,595.0 1267.6,592.9 1275.7,589.4 1282.2,588.5 1290.8,582.2 1296.0,578.9 1304.2,573.1 1311.9,567.8 1318.3,561.7 1324.8,555.4 1331.4,549.1 1335.4,544.6 1339.9,540.1 1340.8,534.2 1341.2,527.7 1340.6,523.1 1338.9,518.2 1335.7,514.0 1331.2,509.9 1326.0,504.3 1322.4,498.0 1316.7,491.4 1310.7,486.7 1303.6,479.7 1296.9,476.1 1291.3,469.7 1284.0,464.7 1277.3,459.7 1272.3,454.1 1266.9,448.1 1261.2,443.7 1258.0,440.5 1255.1,437.2 1251.9,432.5 1251.9,428.3 1251.9,423.6 1254.9,422.1 1261.9,417.4 1270.9,417.5 1281.8,416.7 1291.4,416.2 1300.9,415.4 1308.6,414.8 1312.7,415.2 1317.5,413.3 1318.1,412.9 1309.1,410.9 1299.3,411.1 1288.6,409.2 1283.6,409.2 1273.9,410.0 1267.4,410.0 1261.0,408.6 1257.4,409.5 1260.8,413.5 1269.1,420.8 1267.3,426.5 1266.1,433.1 1261.9,440.0 1260.7,447.4 1259.0,457.4 1257.4,464.7 1255.6,470.3 1254.8,479.0 1255.5,483.7 1254.1,495.2 1254.7,501.7 1252.0,507.8 1251.0,513.8 1251.4,520.8 1251.2,530.3 1250.7,535.0 1249.4,544.1 1247.3,551.3 1245.8,560.2 1244.2,569.2 1243.9,578.4 1247.4,583.3 1255.9,587.9 1259.2,589.5 1266.4,587.8 1271.2,587.1 1278.6,587.1 1284.7,586.8 1292.1,585.2 1301.0,586.7 1308.7,583.6 1317.1,581.9 1325.0,580.5 1334.3,578.4 1341.7,577.6 1351.7,576.8 1358.1,573.9 1365.4,570.8 1374.5,569.7 1381.8,568.2 1387.3,564.8 1392.6,563.8 1396.6,561.8 1401.1,559.8 1401.8,556.8 1403.7,555.0 1403.0,553.3 1401.7,549.4 1400.6,546.4 1396.0,543.0 1392.2,538.4 1387.1,536.2 1380.2,531.8 1373.1,527.1 1365.5,523.5 1357.1,519.6 1350.0,515.7 1341.6,513.6 1333.2,507.8 1326.2,506.3 1318.3,502.6 1311.8,502.3 1304.2,498.1 1298.9,498.1 1293.9,499.1 1290.7,496.5 1283.4,498.1 1279.8,501.8 1275.7,507.5 1271.6,515.6 1270.5,523.2 1267.6,531.6 1267.4,539.9 1265.0,549.3 1264.5,555.7 1263.2,561.3 1258.6,572.3 1257.1,579.9 1255.5,586.1 1253.1,590.2 1252.8,596.2 1242.6,615.8 1248.8,616.2 1251.0,613.6 1254.8,611.9 1257.7,607.8 1260.7,604.2 1266.1,598.8 1270.7,595.8 1275.9,591.4 1279.9,585.5 1285.7,581.6 1292.8,574.7 1298.1,570.8 1303.5,563.8 1309.7,558.2 1314.0,551.0 1320.1,546.9 1326.1,543.2 1331.5,536.9 1338.1,531.1 1343.6,525.9 1348.3,522.1 1353.9,516.9 1356.8,513.0 1361.9,510.2 1366.7,505.4 1374.4,503.1 1383.5,497.0 1391.0,494.4 1398.3,491.8 1403.6,490.2 1410.3,489.2 1415.6,487.7 1421.5,486.8 1424.7,485.1 1429.2,483.5 1433.7,480.5 1437.8,473.4 1438.0,464.9 1437.6,457.4 1435.0,447.4 1435.9,439.4 1433.9,432.2 1433.9,426.6 1436.0,426.6 1436.0,431.2 1430.7,429.2 1424.4,428.5 1418.2,425.7 1409.3,424.3 1402.6,423.1 1393.6,423.3 1386.5,426.4 1381.0,431.9 1376.8,435.2 1376.3,442.9 1373.2,448.3 1370.5,456.7 1368.3,464.1 1366.8,472.9 1365.2,483.9 1363.3,491.5 1359.9,502.2 1358.2,509.4 1355.6,517.6 1354.6,524.9 1351.9,531.1 1349.3,535.4 1344.8,537.8 1342.1,538.8 1337.2,538.5 1334.0,536.9 1330.8,532.9 1323.8,529.6 1319.5,525.3 1315.7,518.6 1308.3,512.5 1303.2,505.2 1297.3,496.9 1292.7,489.7 1288.4,482.6 1283.3,475.5 1278.1,469.1 1273.7,462.2 1271.3,454.3 1268.3,449.1 1266.7,441.9 1263.2,438.3 1263.7,432.4 1263.3,430.9 1265.6,427.5 1268.8,425.9 1274.2,425.0 1278.8,426.3 1286.7,422.7 1292.9,423.8 1300.6,423.3 1307.9,423.7 1316.0,425.6 1324.8,424.4 1333.0,427.1 1341.5,428.0 1347.6,431.4 1357.1,429.6 1362.6,433.7 1368.2,433.9 1372.7,432.2 1377.6,433.4 1378.1,420.4 1367.8,424.3 1369.0,430.2 1368.2,433.2 1370.1,440.3 1370.7,444.0 1370.0,450.8 1370.8,458.2 1373.6,465.7 1373.6,474.2 1374.5,481.6 1375.1,489.5 1376.4,498.1 1378.0,507.0 1380.3,514.9 1378.5,524.2 1381.0,531.9 1382.1,540.2 1383.5,548.8 1385.9,558.3 1385.6,563.8 1385.9,570.5 1387.2,577.8 1386.6,585.4 1388.0,589.9 1389.0,595.8 1387.4,598.7 1377.6,611.3 1374.8,603.4 1379.8,603.8 1385.0,604.6 1389.0,605.0 1398.7,605.9 1405.4,608.4 1413.5,608.6 1423.1,608.9 1429.3,609.1 1435.7,610.3 1440.1,609.4 1445.2,609.6 1443.8,611.9 1436.0,611.4 1439.4,610.5 1446.8,605.5 1446.4,594.1 1446.8,581.2 1446.1,577.6 1446.0,581.0 1448.4,589.1 1448.2,597.8 1448.5,607.1 1448.6,616.6 1446.4,622.4 1443.1,626.1 1435.9,627.3 1430.6,627.7 1423.2,626.8 1413.4,626.1 1407.5,626.4 1400.5,626.9 1391.3,627.1 1382.2,627.3 1372.8,627.2 1364.9,628.2 1355.4,629.4 1349.3,628.1 1347.2,628.2 1345.0,628.0 1346.5,628.5 1351.1,626.8 1357.1,625.2 1365.5,624.3 1374.2,624.7 1382.9,623.0 1391.2,620.6 1399.4,621.1 1406.9,618.4 1414.9,621.1 1419.7,621.4 1427.2,623.7 1435.6,626.4 1442.9,628.3 1446.5,623.1 1448.2,618.0 1448.3,613.7 1447.9,606.6 1447.7,597.9 1445.5,588.9 1446.0,582.6 1444.7,573.1 1443.0,563.8 1443.3,557.4 1443.2,551.0 1441.4,542.4 1440.5,537.1 1439.5,528.1 1439.5,520.6 1437.6,514.0 1438.6,506.3 1437.5,499.8 1436.8,492.0 1438.1,483.0 1437.5,475.3 1437.4,467.5 1439.4,459.2 1439.5,450.9 1440.3,443.4 1440.7,436.3 1440.2,432.6 1442.3,423.8 1440.3,420.5 1436.5,417.8 1431.0,415.8 1422.0,414.1 1416.4,412.9 1410.0,413.1 1404.5,412.7 1397.5,412.9 1390.3,412.5 1384.8,412.4 1377.2,412.7 1367.1,412.3 1360.8,412.1 1357.0,412.3 1349.1,412.0 1341.9,412.5 1335.5,412.7 1328.7,412.6 1321.3,413.5 1315.5,411.6 1309.3,412.6 1301.8,413.6 1295.1,413.5 1291.8,412.1 1286.0,413.7 1274.7,413.5 1268.5,414.3 1263.6,414.5 1260.6,413.9 1260.8,414.6 1256.8,417.8 1255.3,426.9 1254.9,431.4 1257.0,439.4 1258.5,444.7 1260.4,452.9 1262.1,464.9 1261.7,471.8 1260.1,475.6 1259.7,483.3 1260.5,490.4 1257.7,499.2 1256.9,504.8 1256.6,511.5 1255.6,520.0 1252.8,525.9 1252.9,535.1 1252.2,541.9 1251.8,548.9 1251.1,556.9 1250.8,562.2 1251.2,573.1 1249.6,579.0 1248.8,587.6 1249.1,595.5 1250.0,603.3 1250.0,609.8 1250.2,616.5 1248.5,620.5 1249.7,625.4 1248.2,629.2 1249.2,624.5 1252.6,624.2 1259.5,626.0 1270.7,624.7 1275.6,626.6 1281.8,625.8 1290.0,626.7 1297.1,625.5 1306.0,626.6 1314.6,625.6 1322.0,625.3 1329.0,621.8 1334.3,617.6 1340.6,613.1 1342.2,606.3 1344.6,602.7 1345.7,594.7 1347.0,585.9 1348.0,575.2 1348.4,567.0 1349.0,556.7 1349.9,545.1 1351.2,536.4 1350.1,528.1 1352.3,519.5 1351.0,515.4 1350.3,510.3 1350.2,506.7 1349.6,505.6 1349.9,506.1 1349.6,508.7 1347.2,515.0 1345.8,519.9 1343.5,526.4 1342.1,535.8 1340.5,542.2 1338.0,552.9 1336.7,560.2 1336.2,571.7 1332.8,579.3 1332.5,589.1 1331.3,598.2 1331.8,605.3 1331.7,611.3 1331.7,617.7 1333.3,622.6 1337.1,625.8 1341.7,627.3 1347.6,630.3 1353.2,630.8 1361.5,632.0 1367.3,631.2 1375.7,631.8 1384.7,629.6 1392.5,630.4 1400.7,627.5 1406.4,627.3 1412.7,626.8 1416.4,625.6 1427.3,628.4 1436.5,627.8 1441.8,630.1 1446.5,629.8 1450.4,625.4 1452.1,619.3 1450.0,609.1 1445.7,600.6 1443.6,595.4 1442.2,599.8 1443.8,611.5 1443.4,618.4 1438.4,621.9 1433.0,617.4 1431.2,615.2 1432.0,608.6 1430.8,603.8 1426.1,597.3 1412.1,588.2 1408.1,586.1 1404.1,583.8 1397.6,582.1 1392.5,579.1 1386.3,575.3 1381.1,573.6 1375.8,569.6 1367.0,568.8 1360.3,564.8 1353.3,561.1 1345.2,556.9 1338.7,554.7 1330.3,549.9 1323.8,548.2 1315.3,546.2 1307.1,543.7 1300.7,540.0 1294.1,536.9 1287.0,533.5 1280.6,531.4 1274.9,530.9 1269.6,526.4 1265.6,526.2 1259.5,525.2 1256.3,523.8 1252.7,523.2 1245.8,523.6 1245.6,528.3 1245.4,535.6 1245.3,547.0 1248.2,556.2 1249.0,564.4 1248.7,572.5 1247.9,581.8 1249.6,590.5 1249.9,596.5 1249.7,605.2 1246.9,617.6 1248.1,624.5 1254.7,626.2 1262.8,630.0 1271.1,629.2 1279.4,624.4 1286.4,615.6 1287.2,610.4 1286.8,605.6 1288.0,600.0 1286.2,593.9 1287.5,587.5 1285.9,579.6 1286.9,571.6 1285.4,563.6 1285.2,554.0 1284.5,546.5 1284.8,538.9 1284.9,531.8 1285.3,521.4 1284.3,515.9 1287.0,507.0 1288.1,499.5 1289.3,494.9 1291.3,488.0 1296.4,483.3 1299.1,479.8 1303.5,474.2 1308.5,471.2 1315.0,467.5 1322.1,463.4 1327.6,459.7 1335.9,458.3 1343.8,454.8 1352.8,451.5 1360.9,450.2 1367.9,448.6 1375.8,445.0 1381.8,445.3 1389.4,442.6 1395.0,440.4 1400.7,440.4 1406.2,437.9 1410.0,436.8 1414.0,434.3 1414.8,432.2 1415.0,431.1 1414.0,428.2 1408.9,425.9 1402.7,424.9 1393.5,424.9 1385.9,422.3 1378.3,422.6 1368.8,422.8 1357.3,422.4 1350.7,424.2 1342.7,423.0 1335.8,423.6 1329.6,422.8 1319.8,425.2 1311.3,423.2 1305.2,425.1 1298.3,426.3 1291.3,427.5 1284.8,428.0 1279.3,430.2 1275.0,429.8 1270.6,432.1 1274.4,430.3 1270.6,425.4 1267.6,425.7 1263.8,430.5 1263.2,438.2 1263.0,451.1 1262.4,455.2 1263.9,460.9 1266.9,468.9 1268.8,475.3 1271.5,482.8 1274.2,490.4 1274.3,498.2 1274.9,506.3 1276.8,515.3 1274.5,521.9 1273.6,531.1 1269.7,541.3 1268.3,553.7 1265.6,564.4 1261.5,573.7 1257.5,583.0 1255.1,588.1 1254.2,593.7 1256.6,596.2 1260.8,594.3 1262.6,592.6 1264.0,590.8 1267.6,586.0 1269.6,581.3 1272.0,575.1 1275.7,570.0 1278.6,561.5 1282.4,554.8 1285.5,547.5 1290.4,540.7 1295.6,532.9 1299.4,524.2 1300.4,514.8 1306.9,507.6 1310.6,499.6 1315.0,491.7 1319.2,481.8 1322.9,474.9 1328.8,466.9 1332.3,461.7 1335.5,454.4 1340.6,448.4 1345.6,442.0 1348.7,436.2 1352.8,435.7 1356.6,431.0 1359.6,428.6 1362.5,428.1 1365.3,427.1 1369.5,427.5 1371.7,431.3 1377.2,431.4 1379.1,436.3 1382.4,441.3 1384.9,446.5 1389.4,451.3 1392.7,454.9 1394.5,462.5 1399.5,470.2 1402.5,477.5 1403.8,486.2 1408.5,495.4 1411.8,501.7 1414.2,510.3 1419.0,521.1 1420.2,529.3 1424.4,537.7 1425.6,545.6 1429.4,554.5 1432.6,562.7 1434.1,570.3 1436.7,577.6 1439.7,585.8 1442.2,591.8 1443.7,598.4 1445.0,602.4 1446.8,608.9 1447.1,613.5 1451.1,615.6 1450.6,631.7 1440.0,615.6 1437.9,611.8 1436.2,606.7 1436.1,598.5 1435.2,588.3 1431.5,580.9 1433.5,571.9 1433.4,567.1 1433.6,558.8 1434.6,551.2 1436.1,542.8 1435.8,534.7 1439.1,528.3 1440.6,519.5 1439.4,514.3 1440.6,504.3 1438.9,496.6 1438.0,486.4 1438.3,475.7 1436.7,467.7 1435.4,460.3 1434.7,457.9 1434.5,456.2 1435.4,459.4 1434.9,463.3 1435.4,467.0 1435.2,477.7 1437.5,484.8 1437.1,494.6 1438.8,503.8 1438.9,512.7 1439.5,518.5 1437.9,524.1 1440.4,537.5 1441.6,547.9 1440.4,553.9 1439.6,555.9 1437.8,553.5 1435.0,545.9 1435.0,535.7 1432.1,525.0 1432.1,516.4 1431.2,504.2 1433.0,491.7 1432.5,484.8 1432.8,487.4 1432.0,492.8 1429.5,494.3 1427.4,500.6 1425.1,506.0 1424.0,513.7 1421.4,520.8 1418.4,527.3 1417.4,536.9 1412.3,545.1 1410.3,552.3 1410.4,562.2 1407.5,571.7 1405.0,578.8 1402.4,587.3 1401.6,594.7 1398.6,601.0 1396.8,608.7 1396.0,614.3 1395.0,620.1 1394.9,624.4 1397.2,631.3 1403.9,631.9 1412.2,630.4 1421.0,626.4 1430.0,623.1 1435.5,620.0 1444.1,623.7 1442.8,619.8 1444.6,615.3 1442.3,607.6 1441.9,601.1 1440.7,593.8 1437.9,583.2 1439.2,575.2 1435.1,565.8 1434.9,558.7 1435.6,554.6 1439.0,543.3 1443.7,539.7 1446.2,527.7 1448.2,522.9 1447.3,518.5 1448.4,509.8 1448.2,501.8 1447.0,494.4 1448.2,486.5 1447.7,477.1 1447.8,467.1 1447.2,460.6 1447.9,453.6 1445.8,448.0 1445.4,441.5 1447.5,430.3 1445.4,420.5 1446.4,416.7 1447.4,414.4 1451.5,416.2 1451.6,420.3 1446.4,422.6 1441.0,421.6 1434.1,419.6 1423.7,419.3 1416.8,417.4 1408.8,418.0 1402.5,412.9 1398.3,409.4 1391.0,407.6 1385.2,403.3 1378.5,403.2 1372.9,403.2 1365.8,403.1 1358.0,410.2 1355.5,412.2 1353.8,416.5 1351.4,421.7 1348.1,427.8 1344.3,434.2 1340.4,437.5 1337.0,443.8 1332.6,451.6 1328.1,460.2 1325.9,467.4 1320.6,475.8 1317.0,482.9 1314.0,490.4 1310.1,498.7 1307.3,506.7 1304.4,513.7 1301.6,522.3 1299.1,527.5 1296.5,535.1 1294.2,542.9 1293.9,550.4 1291.9,556.8 1292.2,561.9 1291.8,566.9 1292.1,571.1 1293.1,576.7 1296.1,580.3 1298.6,584.1 1302.5,587.6 1307.9,590.8 1313.3,591.8 1321.9,594.3 1326.7,596.6 1334.6,598.7 1341.2,598.3 1351.2,601.0 1358.8,600.9 1367.0,600.9 1376.0,603.1 1384.9,603.4 1392.8,602.6 1398.0,602.6 1408.0,602.3 1413.9,603.6 1422.1,603.7 1425.9,602.1 1430.4,602.9 1435.6,601.2 1445.7,599.8 1450.2,593.9 1447.9,587.7 1446.6,579.7 1446.3,569.6 1446.8,561.6 1447.6,556.0 1448.3,547.7 1447.6,542.5 1449.8,533.9 1449.1,525.3 1449.4,519.0 1450.4,510.3 1449.5,499.5 1449.6,494.3 1449.9,485.3 1450.1,479.6 1450.1,471.1 1451.1,463.4 1450.8,455.4 1450.2,445.8 1450.4,439.6 1450.8,431.7 1451.9,423.6 1450.5,419.3 1450.3,413.3 1450.8,409.6 1451.5,409.9 1449.1,419.1 1446.4,422.4 1440.6,422.1 1436.2,421.4 1427.8,421.8 1420.7,422.0 1409.5,424.3 1405.0,423.5 1400.7,424.1 1393.8,424.5 1386.7,425.3 1379.5,426.3 1372.7,425.9 1366.0,426.0 1357.7,425.4 1349.4,426.9 1344.9,428.0 1337.8,426.6 1332.0,427.3 1327.8,427.4 1314.7,423.5 1309.9,416.7 1305.2,422.0 1302.2,426.1 1299.6,432.3 1295.3,441.8 1293.0,450.0 1288.5,460.9 1285.0,469.8 1285.0,478.3 1283.2,489.7 1284.4,495.0 1287.1,499.4 1291.7,503.2 1294.0,502.8 1298.2,503.1 1302.3,501.4 1307.4,499.8 1314.4,497.9 1320.0,496.9 1326.4,496.0 1332.4,493.3 1339.7,490.8 1347.6,487.6 1354.9,486.1 1361.4,481.9 1370.3,479.6 1377.0,477.5 1383.1,474.1 1392.6,470.0 1398.4,466.5 1405.6,462.0 1412.6,460.9 1419.1,456.0 1425.2,452.2 1432.7,451.0 1438.6,448.8 1440.1,446.6 1444.4,444.6 1448.0,442.0 1455.9,431.7 1455.9,424.3 1454.3,415.3 1447.7,411.4 1443.6,410.1 1435.8,411.6 1428.4,415.4 1418.5,415.8 1412.6,418.4 1407.9,416.0 1403.2,411.5 1392.4,420.1 1388.7,422.1 1385.6,426.6 1380.4,431.0 1374.1,437.1 1367.9,441.6 1361.5,448.1 1355.1,455.0 1349.6,463.3 1340.8,468.0 1335.1,474.3 1330.2,482.3 1323.3,487.7 1318.2,494.4 1313.3,497.3 1311.7,502.4 1308.4,504.9 1307.2,508.0 1307.6,509.4 1308.1,509.6 1311.7,507.8 1315.3,507.3 1320.4,503.3 1325.1,499.6 1332.1,497.2 1337.8,493.3 1345.5,490.7 1352.7,485.7 1360.6,480.9 1368.4,476.6 1375.6,471.1 1385.0,466.7 1391.3,462.0 1397.9,458.6 1403.9,452.3 1409.4,448.5 1414.6,443.7 1417.8,440.6 1422.1,438.2 1423.5,433.7 1423.4,431.2 1421.7,429.0 1419.1,423.8 1411.3,422.1 1403.1,420.6 1394.0,417.9 1385.0,416.9 1377.3,416.5 1369.6,414.3 1363.5,414.9 1356.2,414.1 1349.1,415.0 1341.3,417.7 1335.2,419.7 1329.0,419.9 1321.3,420.8 1315.3,420.7 1308.1,419.7 1301.6,419.0 1292.1,419.0 1284.1,416.5 1278.2,415.3 1271.8,414.5 1267.6,413.3 1260.4,408.6 1259.9,413.1 1258.7,417.6 1259.7,422.9 1259.9,430.3 1259.6,436.2 1260.0,445.4 1260.0,453.6 1260.3,462.4 1261.5,472.3 1259.7,481.8 1261.1,487.3 1259.0,494.6 1258.9,503.6 1259.4,510.8 1257.8,516.5 1259.1,525.6 1256.9,532.1 1257.8,540.5 1257.2,548.4 1258.4,557.2 1257.4,562.2 1258.2,570.5 1256.0,576.6 1256.7,580.1 1256.7,592.0 1254.1,603.9 1254.3,610.1 1254.5,617.0 1254.0,621.3 1252.6,623.9 1254.7,618.1 1259.7,616.3 1263.6,618.6 1269.9,617.5 1276.6,617.8 1285.4,617.5 1293.1,616.5 1304.4,617.1 1310.8,617.7 1317.4,616.6 1321.5,616.1 1329.1,614.4 1336.3,616.5 1343.9,614.5 1349.8,614.8 1358.3,615.2 1365.7,615.0 1372.9,615.9 1380.1,614.7 1386.6,613.7 1389.5,615.2 1394.6,614.2 1407.3,616.1 1416.8,614.2 1423.3,614.8 1428.7,614.4 1434.5,614.6 1439.9,615.1 1447.2,621.6 1446.5,625.0 1447.6,621.0 1446.4,613.9 1445.4,597.2 1444.9,593.3 1442.4,587.8 1440.9,579.4 1441.9,572.1 1440.3,562.8 1439.7,555.0 1437.7,547.6 1437.6,539.4 1437.9,532.8 1434.7,524.5 1436.1,517.0 1435.1,509.8 1435.4,502.8 1433.5,494.3 1433.5,488.0 1433.0,480.3 1433.9,475.1 1431.5,469.7 1431.1,459.5 1431.1,450.6 1431.1,443.4 1431.9,434.1 1431.9,428.6 1441.5,424.5 1444.1,425.7 1440.7,425.9 1436.6,424.7 1429.8,424.8 1422.5,424.3 1414.8,423.8 1405.9,424.0 1398.0,423.6 1393.1,421.0 1387.2,420.2 1382.4,419.8 1374.7,420.1 1369.6,419.8 1364.3,419.1 1356.6,419.3 1352.1,417.9 1343.5,417.5 1337.7,418.0 1329.6,418.2 1324.6,416.3 1315.6,416.3 1308.4,417.1 1300.5,416.2 1291.9,416.2 1283.0,415.9 1277.1,416.5 1269.6,414.9 1263.0,414.6 1256.8,416.2 1253.2,416.1 1250.3,415.4 1252.0,411.6 1261.1,415.3 1261.0,420.8 1262.1,427.0 1262.3,433.0 1261.3,442.0 1261.0,450.2 1259.6,459.3 1256.5,468.0 1256.4,476.9 1255.1,483.0 1255.8,491.8 1254.7,496.7 1252.2,505.1 1251.4,512.6 1248.5,519.7 1250.7,524.8 1249.8,534.6 1251.5,539.2 1252.7,545.2 1252.9,553.2 1255.7,562.8 1258.4,569.0 1261.1,577.4 1261.9,585.1 1264.8,591.8 1266.8,599.3 1267.5,604.8 1268.1,609.7 1270.5,610.9 1268.5,604.5 1263.8,600.7 1264.0,598.7 1268.3,597.3 1275.1,597.4 1283.2,598.5 1291.5,599.1 1299.6,599.7 1309.4,601.1 1315.5,600.0 1320.1,602.3 1326.7,594.0 1325.4,590.4 1319.0,593.5 1323.4,602.6 1327.0,604.3 1330.0,605.6 1337.3,606.0 1344.1,607.0 1352.5,609.0 1359.8,610.6 1368.3,612.1 1375.3,612.0 1381.8,614.0 1389.2,615.4 1397.2,614.7 1404.4,618.0 1413.0,618.0 1421.3,619.7 1427.9,621.2 1431.7,621.6 1437.4,622.1 1444.3,627.4 1445.3,622.3 1446.0,616.8 1448.0,612.5 1449.0,606.7 1448.6,598.0 1451.0,589.3 1451.1,580.4 1451.8,571.4 1451.5,564.2 1449.9,556.9 1448.8,550.6 1444.5,544.1 1440.8,536.1 1437.3,529.6 1432.3,524.1 1428.4,518.1 1424.1,512.0 1420.7,505.8 1418.1,500.2 1418.1,494.6 1419.4,486.2 1421.2,480.8 1425.4,474.6 1432.3,471.0 1436.9,465.8 1439.8,459.8 1440.7,452.0 1442.6,442.3 1442.1,435.7 1441.9,427.2 1440.4,421.1 1435.2,415.5 1430.4,412.0 1422.2,413.3 1414.9,429.6 1413.6,432.2 1413.4,438.0 1412.1,442.7 1409.7,449.2 1408.2,459.0 1407.5,465.1 1406.2,475.8 1405.0,483.9 1403.2,492.1 1403.1,500.8 1400.1,511.4 1398.9,522.1 1399.3,532.2 1396.1,540.0 1395.9,549.8 1393.7,558.4 1391.7,567.0 1390.5,574.7 1389.4,582.7 1387.1,589.6 1385.6,595.0 1385.0,599.6 1383.6,604.9 1382.6,606.5 1380.4,607.8 1378.7,607.6 1378.1,608.2 1376.5,607.2 1375.8,602.8 1374.5,598.9 1375.6,594.3 1373.7,586.7 1371.9,582.7 1371.7,574.9 1370.2,567.6 1367.6,558.8 1366.9,552.2 1365.8,542.7 1366.9,531.7 1364.2,525.7 1363.8,514.5 1362.5,505.5 1362.2,495.3 1361.2,487.5 1360.6,477.1 1358.0,468.9 1357.0,460.3 1355.8,452.8 1355.0,443.2 1354.3,436.0 1352.4,428.8 1352.6,423.8 1350.3,417.1 1348.8,412.9 1346.2,409.5 1341.5,402.9 1333.9,402.8 1327.9,402.8 1318.3,402.7 1311.5,402.6 1305.0,402.7 1298.0,410.3 1293.9,414.7 1289.9,419.1 1290.5,423.9 1290.9,428.8 1292.1,435.7 1294.9,440.5 1299.0,448.0 1301.6,453.8 1306.1,461.9 1309.1,468.0 1313.1,477.2 1315.3,484.4 1320.4,493.2 1321.3,501.4 1323.6,507.7 1325.0,514.8 1327.9,521.1 1325.8,530.8 1330.2,535.9 1331.3,546.3 1331.3,555.6 1332.5,564.3 1334.9,569.1 1335.2,578.7 1337.1,586.5 1339.3,594.7 1339.3,601.0 1342.0,607.2 1344.1,614.0 1346.5,616.2 1347.2,621.1 1352.2,624.9 1361.6,626.5 1371.9,624.3 1380.6,620.1 1389.7,616.7 1394.9,611.0 1399.2,608.2 1399.1,605.9 1399.2,605.6 1394.0,605.5 1387.0,606.9 1379.7,610.0 1371.6,611.7 1363.0,610.7 1354.1,612.4 1346.3,612.9 1336.8,612.5 1330.5,608.7 1325.1,606.2 1322.3,602.1 1318.6,596.2 1318.0,590.1 1316.4,582.7 1314.9,575.7 1312.3,567.2 1311.6,559.8 1309.9,549.2 1309.8,541.7 1308.0,533.5 1307.3,524.1 1307.2,515.4 1306.1,508.7 1305.1,503.2 1303.4,496.8 1303.5,493.7 1301.2,490.7 1298.9,489.4 1294.3,499.2 1291.3,513.0 1288.4,522.0 1284.9,525.5 1283.3,521.8 1283.9,516.4 1283.5,509.1 1286.1,502.2 1285.0,491.0 1287.7,484.3 1286.2,474.6 1285.9,466.9 1286.2,458.5 1285.7,451.7 1282.3,442.8 1279.3,434.5 1273.7,427.0 1271.2,419.5 1266.9,419.2 1265.4,418.7 1261.8,420.7 1262.2,426.1 1263.7,432.8 1263.0,441.4 1264.8,449.6 1263.8,458.8 1265.6,468.8 1263.7,477.7 1265.0,484.9 1263.6,493.0 1264.2,498.6 1263.4,507.6 1262.4,516.7 1260.5,524.0 1261.3,530.5 1261.0,539.5 1259.2,545.5 1260.6,553.4 1262.5,561.9 1262.1,569.6 1263.1,577.3 1264.0,584.5 1264.0,590.4 1263.3,595.0 1260.0,605.3 1255.9,612.9 1253.7,618.5 1251.5,619.9 1253.2,621.1 1252.1,618.4 1261.7,615.3 1266.6,615.3 1270.5,617.1 1275.9,615.5 1283.3,615.6 1288.2,615.1 1295.4,615.2 1304.0,612.9 1311.3,613.3 1318.9,614.3 1325.8,612.5 1332.9,613.2 1340.2,612.1 1347.5,613.6 1354.0,612.4 1361.5,612.0 1369.1,612.2 1379.8,610.6 1387.4,612.2 1394.3,613.9 1403.1,613.6 1411.0,614.3 1417.8,614.4 1422.1,612.6 1425.3,614.3 1429.3,612.8 1430.5,608.4 1426.6,602.9 1421.0,596.9 1410.6,593.1 1401.5,588.9 1393.0,585.8 1386.9,587.6 1379.9,586.8 1373.9,590.3 1365.8,594.5 1358.6,597.8 1349.9,600.6 1343.6,601.5 1336.7,600.1 1331.4,596.9 1328.7,592.4 1325.4,586.1 1322.7,580.5 1318.5,573.3 1316.0,565.7 1311.6,555.9 1308.9,546.7 1304.6,536.1 1302.5,527.7 1302.1,519.0 1299.8,509.2 1297.6,502.1 1298.3,493.7 1296.2,486.4 1296.7,482.4 1296.4,479.5 1298.8,475.8 1301.7,474.8 1302.9,477.5 1305.3,478.4 1308.4,481.2 1311.9,485.1 1315.6,486.3 1319.3,490.5 1325.2,494.3 1330.0,499.8 1333.7,504.8 1338.8,511.9 1344.2,516.6 1350.0,521.5 1356.6,528.5 1362.6,534.2 1367.9,540.7 1372.4,546.5 1380.8,554.4 1385.9,559.9 1391.3,567.4 1397.1,572.9 1403.4,579.6 1409.5,587.6 1413.6,591.6 1417.9,598.2 1422.3,600.7 1429.0,608.6 1434.0,612.4 1437.2,615.5 1439.8,619.7 1442.7,624.7 1444.5,625.3 1455.0,632.0 1446.5,621.9 1440.7,621.9 1435.8,621.4 1429.2,622.8 1415.8,622.5 1411.9,622.6 1405.9,622.2 1399.2,623.3 1391.3,622.4 1385.3,624.8 1377.6,622.4 1370.4,624.4 1362.8,623.5 1356.0,623.8 1350.3,623.5 1344.4,623.3 1335.9,620.8 1327.3,617.4 1317.5,613.3 1310.8,609.7 1306.5,605.9 1302.8,604.3 1303.3,602.7 1307.9,601.0 1312.3,602.9 1318.8,605.1 1325.2,607.8 1332.9,605.8 1341.6,610.6 1351.8,612.2 1357.9,614.9 1364.5,616.2 1371.3,618.4 1380.8,618.7 1387.0,620.0 1395.2,619.9 1402.7,621.4 1408.1,621.3 1414.0,620.9 1423.4,618.8 1433.3,619.0 1439.9,617.9 1446.6,617.8 1449.2,616.7 1448.6,617.4 1442.6,616.3 1441.8,623.5 1430.3,615.3 1427.6,614.1 1424.0,612.4 1420.7,606.7 1414.4,602.6 1409.3,597.9 1403.5,594.0 1397.1,587.8 1390.7,581.0 1383.2,574.8 1378.3,570.2 1370.9,563.3 1364.7,556.6 1357.7,551.0 1350.2,544.4 1344.0,539.2 1339.9,533.9 1332.8,528.2 1328.1,521.7 1322.3,518.6 1320.5,514.2 1316.1,510.1 1313.1,506.7 1311.9,504.5 1311.5,502.9 1312.0,502.1 1311.2,501.4 1313.7,501.6 1316.7,503.1 1321.3,505.2 1326.0,507.7 1330.5,512.3 1336.3,514.7 1342.6,517.4 1348.9,521.0 1356.3,526.6 1364.4,530.6 1371.6,536.8 1377.6,541.5 1386.9,546.1 1393.4,549.7 1402.2,554.8 1408.9,559.3 1418.1,564.0 1422.8,569.1 1429.8,573.2 1436.9,575.6 1440.6,578.7 1446.5,580.1 1448.2,580.9 1452.5,583.0 1455.2,583.1 1455.2,579.9 1454.4,572.4 1445.7,564.5 1441.4,554.7 1435.9,546.7 1431.5,539.8 1430.6,533.2 1431.5,528.1 1432.7,519.9 1434.9,511.2 1434.5,505.3 1437.5,499.4 1439.1,493.1 1439.8,485.6 1441.1,479.9 1445.2,471.1 1446.8,464.6 1447.7,457.3 1450.8,448.0 1454.3,440.1 1454.8,430.3 1454.1,423.0 1452.6,417.8 1445.4,412.8 1441.2,412.6 1439.8,411.6 1433.2,410.2 1428.6,408.1 1422.7,408.2 1415.0,408.1 1410.3,406.5 1401.4,403.8 1393.5,406.0 1387.4,406.1 1379.8,406.7 1372.1,407.2 1366.0,408.4 1357.3,410.9 1350.9,411.8 1344.8,416.9 1338.5,419.2 1331.9,422.8 1326.9,427.6 1323.8,432.7 1321.3,437.2 1316.3,441.8 1313.6,446.8 1309.9,453.2 1307.2,459.0 1303.5,466.6 1300.5,474.2 1296.7,479.8 1295.6,487.4 1293.4,495.7 1290.5,502.7 1286.8,511.5 1283.8,520.6 1279.9,528.9 1280.1,535.8 1275.4,545.5 1273.7,552.4 1272.1,559.3 1268.0,568.4 1266.5,575.0 1264.8,583.2 1261.9,590.1 1261.1,596.4 1259.4,600.9 1258.5,605.1 1256.1,611.1 1253.5,614.3 1253.4,619.2 1242.7,632.0 1252.0,620.7 1256.1,620.0 1261.7,620.4 1267.4,619.7 1276.2,616.8 1284.9,617.4 1291.0,615.8 1299.3,614.2 1306.8,612.5 1314.0,610.7 1320.5,611.2 1328.3,609.7 1335.4,608.4 1341.7,610.1 1348.1,606.8 1354.3,607.6 1360.4,606.2 1366.5,606.7 1370.3,607.7 1380.3,608.1 1388.2,610.8 1394.4,614.7 1401.7,616.7 1407.6,617.1 1415.5,616.9 1423.4,615.2 1428.9,618.3 1437.5,617.2 1439.5,617.5 1444.8,618.1 1444.3,616.2 1442.9,609.7 1443.2,599.5 1440.5,589.6 1441.9,581.2 1442.3,576.8 1443.9,570.1 1444.5,561.6 1444.5,554.8 1442.7,549.9 1444.0,542.1 1440.9,534.6 1442.8,526.1 1441.1,519.6 1442.4,510.8 1441.2,503.8 1442.0,497.5 1443.1,490.9 1442.5,481.4 1444.3,474.1 1445.5,466.5 1447.7,457.8 1448.0,452.1 1446.4,446.4 1446.2,438.4 1441.3,428.2 1437.4,424.3 1433.0,420.2 1431.4,423.8 1434.1,428.5 1434.1,424.3 1432.3,419.8 1431.0,415.6 1424.3,411.5 1409.2,420.5 1406.4,420.0 1401.2,424.1 1397.0,426.1 1390.8,431.2 1386.2,435.4 1379.4,437.7 1372.8,442.2 1366.5,446.7 1360.4,450.2 1352.9,456.6 1347.0,461.9 1338.7,466.3 1333.3,473.3 1326.4,477.1 1322.0,484.0 1316.8,488.9 1312.5,493.3 1308.6,499.0 1306.0,502.3 1302.6,508.7 1301.1,513.0 1301.5,517.8 1302.3,522.1 1305.3,523.7 1306.5,530.1 1311.5,534.5 1314.1,537.5 1321.1,544.6 1325.4,549.4 1331.0,552.2 1337.3,558.5 1342.8,563.9 1348.9,567.9 1358.8,573.9 1364.2,577.6 1370.9,583.3 1378.2,584.4 1386.7,590.2 1392.2,593.9 1399.7,597.4 1406.9,600.6 1412.0,604.3 1418.4,607.1 1424.4,608.4 1426.3,611.0 1431.8,612.2 1433.8,614.0 1439.4,612.8 1442.1,609.4 1441.3,603.6 1438.4,593.3 1433.8,584.1 1430.4,574.2 1427.6,563.7 1427.7,555.7 1427.4,550.8 1429.7,542.6 1431.1,537.8 1433.5,531.4 1435.9,524.9 1440.7,517.7 1441.2,512.0 1444.5,502.2 1442.9,495.1 1443.8,489.0 1444.7,480.7 1445.2,475.1 1444.3,465.6 1445.4,457.4 1444.5,446.8 1445.9,439.8 1444.1,431.0 1445.1,425.0 1445.7,419.2 1445.5,413.0 1445.9,409.3 1445.5,406.3 1446.2,414.8 1441.0,416.2 1432.1,415.6 1425.5,413.4 1417.1,409.2 1407.8,403.5 1399.3,403.4 1393.6,403.4 1389.1,410.0 1389.1,415.1 1388.3,419.6 1388.8,425.6 1390.1,433.2 1390.2,440.5 1391.6,448.9 1391.2,456.6 1392.4,465.8 1393.8,474.4 1395.9,485.2 1396.0,495.1 1397.9,504.7 1399.9,514.2 1400.4,524.1 1401.8,532.7 1403.3,541.4 1404.6,549.7 1406.9,557.2 1408.2,565.2 1408.3,571.4 1411.0,576.5 1410.6,581.5 1410.8,581.9 1412.8,584.8 1412.3,586.1 1414.4,585.7 1413.3,585.1 1412.7,581.2 1415.0,576.2 1415.1,569.8 1414.4,564.4 1415.8,557.3 1414.9,550.5 1414.4,541.7 1415.4,533.0 1413.5,523.8 1415.4,514.3 1413.9,504.0 1414.7,493.7 1414.2,483.9 1413.9,474.3 1412.5,467.2 1412.2,456.0 1413.1,447.8 1411.9,439.6 1411.7,432.5 1412.0,424.8 1410.9,418.8 1409.8,416.1 1410.4,410.2 1405.2,403.5 1401.2,403.5 1394.2,407.8 1385.0,413.5 1378.6,416.2 1374.3,414.0 1368.9,413.4 1360.6,416.0 1354.7,414.6 1348.2,414.5 1342.3,414.4 1335.7,414.8 1329.1,413.8 1321.7,413.4 1315.6,414.4 1307.5,414.1 1301.6,414.8 1293.5,415.8 1285.4,414.3 1280.6,414.7 1273.8,414.8 1269.2,414.0 1263.9,414.1 1260.2,414.5 1256.6,410.0 1260.4,410.3 1259.5,413.4 1258.4,420.5 1257.1,428.9 1256.2,437.9 1255.0,446.9 1256.0,454.6 1255.8,460.9 1259.4,468.0 1261.9,473.7 1267.1,476.0 1272.9,482.6 1275.1,493.3 1275.8,498.8 1273.9,504.8 1273.8,512.3 1273.6,518.6 1273.4,528.9 1270.5,538.3 1270.7,545.5 1269.1,553.8 1269.2,560.7 1268.0,567.7 1267.3,572.9 1267.6,578.8 1265.9,593.5 1266.0,602.6 1265.4,607.3 1268.2,603.5 1273.8,598.5 1277.8,604.4 1282.4,606.5 1289.7,611.8 1297.6,616.2 1302.4,618.4 1310.3,617.6 1315.0,618.7 1322.0,621.6 1330.1,622.2 1337.7,620.6 1347.9,620.9 1353.3,622.3 1361.5,621.3 1368.2,620.6 1375.8,622.0 1377.3,621.6 1387.4,617.7 1390.4,610.8 1392.7,605.5 1396.0,600.2 1405.1,599.3 1411.5,598.3 1418.9,596.1 1425.2,599.5 1432.1,611.3 1435.6,625.2 1436.7,625.2 1439.1,621.6 1440.5,615.7 1440.0,608.3 1442.5,600.4 1441.6,593.3 1443.8,583.7 1445.6,573.4 1445.5,564.4 1446.3,554.2 1445.2,546.8 1446.9,539.0 1446.4,532.1 1445.2,527.7 1442.8,523.5 1439.5,522.7 1435.9,524.0 1433.8,528.3 1427.8,534.5 1421.9,540.6 1416.1,547.0 1407.7,549.9 1398.9,549.0 1389.4,546.7 1386.9,543.1 1381.8,539.9 1379.3,536.3 1375.5,531.8 1370.3,528.6 1365.9,524.2 1360.3,517.9 1356.3,511.6 1350.9,504.8 1346.0,498.6 1340.6,493.0 1335.5,484.1 1330.3,478.3 1324.0,471.4 1320.8,464.3 1316.5,458.9 1309.8,451.7 1305.5,445.0 1301.7,438.0 1295.6,432.3 1293.3,426.6 1287.7,421.8 1285.7,416.8 1280.9,414.6 1277.4,410.9 1274.7,407.5 1272.9,403.9 1269.7,404.1 1266.9,402.5 1264.1,405.8 1264.1,410.8 1265.2,418.7 1266.6,427.7 1268.8,437.7 1272.3,449.9 1274.5,459.1 1275.7,468.3 1278.4,478.4 1278.4,484.5 1278.1,492.5 1273.5,501.0 1269.9,504.3 1267.9,509.6 1264.3,521.9 1262.9,524.8 1263.2,533.6 1261.1,539.9 1260.9,546.9 1259.5,556.9 1258.0,564.0 1258.4,573.3 1256.6,581.1 1256.9,589.0 1256.5,596.3 1255.4,605.0 1256.3,609.5 1253.6,615.3 1253.8,619.9 1247.8,625.6 1253.9,621.1 1257.4,620.9 1264.0,620.6 1269.6,619.8 1277.6,622.3 1284.0,621.2 1292.3,621.9 1300.7,622.8 1306.6,623.9 1315.4,624.1 1322.2,624.1 1330.0,624.9 1335.9,624.4 1343.6,624.8 1352.6,625.2 1359.5,625.7 1366.4,624.7 1373.1,625.2 1380.1,624.8 1384.3,623.0 1393.8,621.6 1400.3,618.5 1404.1,616.3 1412.2,613.5 1417.9,613.9 1425.2,614.1 1434.4,617.0 1442.0,619.0 1448.0,617.9 1450.4,619.4 1449.7,625.6 1444.6,618.9 1443.4,616.4 1444.4,610.0 1443.5,604.7 1444.5,597.0 1443.1,590.2 1443.8,580.6 1444.8,573.8 1444.8,564.3 1445.2,557.2 1443.1,549.8 1444.2,543.4 1443.2,534.9 1442.2,527.6 1441.2,519.9 1442.3,514.0 1439.6,508.1 1437.8,501.8 1430.9,491.0 1424.9,486.2 1422.0,483.6 1416.9,479.1 1412.7,475.3 1408.5,471.8 1401.6,467.4 1396.3,463.0 1390.7,460.2 1385.8,455.1 1378.1,453.1 1371.5,446.8 1364.7,443.4 1359.7,438.4 1354.4,434.7 1345.6,429.9 1341.2,428.4 1334.4,424.5 1329.4,420.5 1323.8,418.2 1319.2,416.6 1313.6,413.3 1308.9,411.0 1305.7,410.3 1293.9,406.4 1285.3,407.9 1277.4,413.2 1273.9,417.1 1270.0,420.3 1264.7,418.5 1266.2,420.2 1266.1,424.0 1268.1,430.8 1271.2,436.3 1272.8,445.4 1274.9,453.4 1278.0,460.8 1278.7,466.9 1276.5,475.0 1274.5,480.0 1272.1,487.9 1268.6,494.0 1266.6,502.4 1263.6,510.7 1260.2,517.7 1261.1,523.5 1259.0,530.6 1258.4,539.9 1259.1,544.3 1258.3,550.8 1259.7,558.2 1259.8,566.2 1258.8,571.2 1259.3,580.3 1258.8,589.9 1258.1,596.5 1257.4,605.7 1259.1,612.5 1258.4,619.4 1259.4,624.1 1255.3,622.8 1258.8,614.7 1263.5,615.5 1269.3,615.9 1275.0,617.8 1284.4,621.5 1291.8,622.0 1301.4,621.9 1308.0,622.6 1315.3,624.0 1320.5,623.2 1328.4,623.7 1336.9,622.9 1345.2,622.9 1350.1,622.2 1355.4,622.0 1367.8,621.7 1372.9,622.3 1379.7,620.8 1386.6,622.0 1395.3,616.6 1399.9,612.9 1405.7,610.0 1413.1,608.7 1421.1,608.9 1426.6,611.0 1434.5,611.1 1443.5,614.1 1448.7,615.1 1454.0,616.5 1450.2,618.8 1439.8,615.5 1439.3,610.2 1439.5,600.8 1440.7,591.1 1443.0,581.2 1441.8,571.7 1441.2,569.1 1443.8,571.0 1445.0,579.8 1445.7,590.0 1445.6,598.1 1446.4,606.7 1449.5,617.2 1445.5,623.1 1442.4,623.2 1436.7,623.1 1429.5,620.2 1422.3,618.2 1416.6,616.9 1408.0,614.5 1401.1,613.9 1395.5,613.8 1387.9,615.2 1381.3,616.0 1373.5,618.4 1367.0,619.0 1359.8,620.6 1353.8,620.9 1347.9,621.1 1340.1,620.9 1332.5,619.9 1326.4,620.4 1321.6,619.4 1312.9,616.7 1306.0,617.4 1298.8,618.2 1291.2,617.3 1282.3,618.0 1274.6,617.3 1267.7,618.4 1260.9,618.6 1257.4,617.3 1251.3,610.2 1253.2,600.6 1252.4,596.5 1253.8,589.7 1253.0,582.4 1256.4,567.7 1257.7,563.6 1258.3,557.3 1258.3,551.6 1260.7,542.7 1262.3,536.9 1261.9,527.9 1263.5,519.9 1265.3,511.0 1265.6,503.8 1268.4,495.0 1268.8,488.1 1269.5,481.0 1271.6,475.0 1272.9,463.8 1271.1,452.9 1272.3,446.6 1272.7,439.6 1273.5,433.6 1271.6,428.1 1269.7,421.9 1272.4,420.7 1277.8,419.9 1286.3,414.4 1292.6,414.7" fill="none" stroke="#120806" stroke-width="1.25" stroke-linejoin="round" opacity="0.95"/>
<polygon points="1293.20,457.40 1407.20,457.40 1405.60,577.60 1291.60,577.60" fill="#8652a6" opacity="0.45"/>
<rect x="1506.1" y="375.0" width="260.80" height="275.80" fill="#808080"/>
<polygon points="1534.70,394.00 1752.40,396.00 1751.90,637.30 1516.10,633.00" fill="#dc6a25" stroke="#6f8187" stroke-width="2.2"/>
<polygon points="1534.70,394.00 1752.40,396.00 1751.90,637.30 1516.10,633.00" fill="#dc6a25"/>
<polygon points="1587.60,451.30 1694.40,451.30 1694.00,569.50 1581.50,567.90" fill="#8652a6"/>
<path d="M1741.2,417.1 1735.8,417.0 1731.2,415.2 1726.1,415.6 1719.7,415.0 1713.2,413.8 1705.2,413.0 1699.7,411.8 1691.7,411.2 1683.6,411.4 1678.1,408.9 1669.0,408.6 1662.7,409.1 1656.3,409.6 1649.9,408.7 1642.9,408.7 1635.5,410.8 1629.7,412.0 1619.8,414.9 1614.1,415.2 1606.6,414.7 1598.6,417.2 1592.0,417.2 1586.6,421.0 1580.7,422.3 1574.9,422.3 1564.6,424.1 1559.1,420.8 1554.9,422.6 1551.5,426.9 1550.2,431.8 1548.2,437.9 1545.8,446.1 1545.8,457.0 1545.0,462.6 1545.8,467.9 1544.7,474.7 1545.7,480.1 1545.6,490.0 1546.1,496.1 1544.7,504.1 1545.8,511.1 1545.7,519.2 1545.4,526.4 1545.8,532.6 1545.5,537.9 1545.1,543.5 1544.0,556.3 1540.9,563.6 1539.6,568.7 1536.5,576.9 1535.3,583.8 1534.9,592.4 1534.8,602.7 1535.3,609.0 1535.1,614.1 1539.1,613.3 1547.4,607.5 1554.0,603.3 1563.5,599.3 1567.0,599.5 1574.8,600.1 1578.1,600.6 1585.3,602.3 1593.1,603.8 1598.8,605.1 1606.9,605.6 1615.0,606.4 1620.6,606.1 1625.8,604.0 1634.6,602.8 1643.0,602.3 1650.0,601.6 1658.5,600.7 1667.2,600.1 1675.6,598.6 1681.7,597.2 1688.9,596.3 1695.6,594.9 1699.2,595.0 1704.4,593.7 1714.6,593.0 1714.2,594.4 1723.2,598.7 1731.0,599.6 1731.5,595.2 1730.7,591.8 1730.5,584.6 1729.8,577.2 1726.5,568.9 1727.6,561.4 1726.3,552.2 1725.9,543.6 1727.2,537.0 1726.7,530.4 1728.9,522.2 1730.0,513.6 1729.7,506.6 1730.3,496.3 1732.8,487.8 1734.5,478.2 1736.1,471.4 1735.8,463.3 1737.0,458.5 1736.1,454.6 1734.7,447.7 1736.7,447.1 1735.6,447.9 1733.0,451.1 1731.4,458.3 1729.4,466.4 1725.3,475.8 1723.0,485.1 1721.6,494.6 1718.5,503.7 1714.5,512.9 1711.5,518.9 1710.0,523.4 1705.4,523.2 1704.8,520.6 1704.0,516.9 1702.3,512.0 1701.4,502.0 1698.3,494.9 1696.1,487.7 1695.1,477.4 1694.8,467.2 1692.8,456.7 1690.8,448.7 1690.1,440.8 1689.1,432.9 1688.4,426.9 1686.5,421.0 1686.4,419.7 1686.1,418.4 1684.4,418.7 1685.3,424.2 1684.9,429.0 1683.8,435.5 1688.0,441.6 1686.7,451.3 1688.8,458.5 1689.9,470.4 1692.7,481.4 1691.3,488.8 1692.5,501.3 1692.4,510.1 1693.2,517.0 1691.5,524.3 1691.2,531.8 1688.2,536.0 1685.6,541.0 1681.8,540.8 1678.6,540.5 1676.1,538.2 1674.3,536.1 1668.0,534.1 1663.0,531.5 1659.2,525.3 1652.7,520.7 1648.5,516.4 1643.4,510.1 1637.2,503.0 1631.8,497.0 1625.4,490.2 1619.0,483.3 1613.3,477.4 1607.1,470.4 1600.7,462.8 1595.1,458.3 1588.8,451.6 1582.4,445.5 1578.8,440.1 1573.1,434.1 1569.0,430.7 1565.2,424.9 1560.9,423.0 1557.4,419.2 1553.1,418.1 1551.6,418.8 1546.5,418.4 1545.0,419.7 1543.0,423.8 1542.8,431.3 1543.8,438.1 1543.1,445.0 1546.1,454.2 1547.0,462.8 1547.8,473.9 1549.6,483.7 1552.4,493.0 1553.1,502.1 1553.7,508.2 1555.3,517.7 1554.2,524.2 1551.2,532.9 1552.8,540.4 1551.4,548.7 1550.7,557.6 1549.9,564.1 1547.7,572.4 1546.1,579.1 1546.1,585.0 1546.0,593.3 1545.7,595.1 1544.1,599.8 1540.7,609.3 1544.4,605.8 1548.6,606.7 1555.5,609.0 1560.9,608.3 1568.3,609.5 1575.0,611.1 1583.5,606.4 1592.0,603.9 1593.3,599.4 1599.8,593.9 1604.0,588.7 1608.6,582.0 1613.1,576.1 1618.2,567.3 1624.1,560.7 1626.4,552.7 1632.1,544.4 1636.2,539.2 1640.5,534.9 1646.2,529.5 1649.1,528.5 1652.0,526.6 1656.1,528.9 1659.3,532.1 1660.0,536.4 1662.7,542.5 1666.6,547.8 1668.4,557.0 1671.8,563.5 1673.6,573.3 1676.4,579.7 1678.2,588.9 1681.6,597.3 1683.7,603.6 1687.0,610.3 1688.3,614.5 1692.7,618.5 1697.8,622.2 1705.7,624.5 1714.9,624.6 1722.3,622.9 1727.7,622.9 1734.9,621.1 1738.3,619.2 1740.0,608.1 1733.6,601.8 1735.7,606.3 1733.8,613.4 1730.6,614.8 1727.0,617.3 1711.7,614.9 1708.3,613.4 1704.3,613.1 1697.3,610.6 1691.3,609.5 1683.6,608.2 1677.6,608.4 1669.6,605.4 1661.9,604.0 1654.0,601.7 1647.4,599.2 1640.1,598.3 1633.4,597.2 1627.6,595.1 1621.8,593.9 1617.5,593.2 1606.0,594.5 1600.5,598.8 1594.5,602.4 1588.0,603.3 1581.5,603.8 1574.2,605.6 1565.8,603.8 1557.1,604.3 1551.7,603.4 1547.2,603.0 1544.2,601.6 1545.9,601.9 1545.3,603.4 1546.0,603.6 1551.1,605.9 1558.0,608.5 1567.6,607.5 1577.4,607.2 1583.5,604.2 1588.8,603.3 1595.2,600.8 1601.0,597.9 1607.8,593.3 1613.0,592.6 1621.5,589.2 1627.2,586.0 1632.6,586.7 1640.0,587.2 1646.3,585.1 1653.5,587.5 1658.9,590.4 1667.7,592.5 1674.6,594.7 1681.7,600.4 1688.9,602.4 1695.7,603.5 1701.0,605.9 1705.8,610.5 1711.9,612.3 1720.4,613.9 1726.0,617.2 1729.3,616.7 1733.6,621.7 1736.3,617.6 1736.5,613.8 1737.0,609.1 1735.4,599.1 1733.6,590.9 1733.2,582.4 1732.1,574.4 1729.4,565.4 1730.5,559.6 1729.1,551.2 1731.9,545.7 1730.9,539.1 1732.7,531.8 1732.6,524.5 1733.0,517.6 1731.7,509.0 1731.9,503.5 1730.3,495.5 1730.5,487.1 1728.8,480.4 1729.5,472.9 1727.9,465.8 1726.8,457.9 1726.3,451.0 1725.7,446.8 1724.2,436.1 1724.9,429.7 1725.4,423.7 1732.4,419.4 1741.0,411.7 1742.9,413.4 1740.3,414.8 1739.4,418.2 1732.9,423.3 1727.7,428.5 1721.3,431.9 1716.6,438.4 1709.2,444.9 1705.3,450.4 1703.5,458.4 1700.6,463.4 1702.0,467.0 1703.2,474.9 1706.3,483.6 1709.0,488.6 1713.2,498.2 1717.8,504.7 1721.6,513.0 1726.5,521.2 1730.7,526.8 1734.7,533.8 1736.8,539.1 1738.7,543.4 1740.3,547.2 1740.4,547.4 1738.8,547.6 1737.7,547.1 1736.4,542.7 1731.9,540.3 1726.9,534.5 1723.0,527.9 1719.9,521.4 1714.4,515.9 1708.4,507.7 1703.4,501.8 1697.0,496.2 1690.3,489.6 1684.2,482.2 1678.9,480.0 1673.4,477.0 1668.9,471.1 1664.2,468.5 1657.2,463.2 1652.6,460.8 1645.0,457.3 1639.1,451.2 1633.1,447.5 1625.4,443.7 1619.1,438.8 1613.7,434.8 1607.1,432.6 1601.6,427.9 1596.3,424.7 1592.4,420.1 1585.9,417.3 1582.2,414.2 1578.6,412.4 1575.9,411.1" fill="none" stroke="#120806" stroke-width="1.25" stroke-linejoin="round" opacity="0.95"/>
<polygon points="1587.60,451.30 1694.40,451.30 1694.00,569.50 1581.50,567.90" fill="#8652a6" opacity="0.45"/>
<text transform="translate(-2.68,776.16) scale(0.9503,1)" font-size="45.20" fill="#000">C</text>
<line x1="255.30" y1="798.70" x2="255.30" y2="1390.20" stroke="#000" stroke-width="3.5"/>
<line x1="246.30" y1="1388.50" x2="851.60" y2="1388.50" stroke="#000" stroke-width="3.5"/>
<line x1="246.30" y1="800.50" x2="255.30" y2="800.50" stroke="#000" stroke-width="3.5"/>
<text transform="translate(166.95,810.50) scale(0.9119,1)" font-size="29.40" font-weight="bold" fill="#000">80000</text>
<line x1="246.30" y1="947.70" x2="255.30" y2="947.70" stroke="#000" stroke-width="3.5"/>
<text transform="translate(166.95,957.70) scale(0.9119,1)" font-size="29.40" font-weight="bold" fill="#000">60000</text>
<line x1="246.30" y1="1094.90" x2="255.30" y2="1094.90" stroke="#000" stroke-width="3.5"/>
<text transform="translate(166.95,1104.90) scale(0.9119,1)" font-size="29.40" font-weight="bold" fill="#000">40000</text>
<line x1="246.30" y1="1242.10" x2="255.30" y2="1242.10" stroke="#000" stroke-width="3.5"/>
<text transform="translate(166.95,1252.10) scale(0.9119,1)" font-size="29.40" font-weight="bold" fill="#000">20000</text>
<line x1="246.30" y1="1389.30" x2="255.30" y2="1389.30" stroke="#000" stroke-width="3.5"/>
<text transform="translate(226.59,1399.30) scale(0.9119,1)" font-size="29.40" font-weight="bold" fill="#000">0</text>
<line x1="323.20" y1="1388.50" x2="323.20" y2="1399.50" stroke="#000" stroke-width="3.5"/>
<line x1="442.70" y1="1388.50" x2="442.70" y2="1399.50" stroke="#000" stroke-width="3.5"/>
<line x1="613.70" y1="1388.50" x2="613.70" y2="1399.50" stroke="#000" stroke-width="3.5"/>
<line x1="733.50" y1="1388.50" x2="733.50" y2="1399.50" stroke="#000" stroke-width="3.5"/>
<rect x="270.90" y="1049.20" width="109.10" height="339.30" fill="#fff" stroke="#000" stroke-width="5.0"/>
<rect x="390.70" y="1040.00" width="108.20" height="348.50" fill="#a3a2a7" stroke="#000" stroke-width="5.0"/>
<rect x="562.40" y="1001.50" width="107.90" height="387.00" fill="#fff" stroke="#000" stroke-width="5.0"/>
<rect x="681.30" y="1151.90" width="109.30" height="236.60" fill="#000" stroke="#000" stroke-width="5.0"/>
<line x1="324.60" y1="1046.70" x2="324.60" y2="1012.20" stroke="#000" stroke-width="5.0"/>
<line x1="296.70" y1="1012.20" x2="352.80" y2="1012.20" stroke="#000" stroke-width="5.0"/>
<line x1="445.00" y1="1037.50" x2="445.00" y2="999.20" stroke="#000" stroke-width="5.0"/>
<line x1="415.60" y1="999.20" x2="472.40" y2="999.20" stroke="#000" stroke-width="5.0"/>
<line x1="614.60" y1="999.00" x2="614.60" y2="952.40" stroke="#000" stroke-width="5.0"/>
<line x1="586.60" y1="952.40" x2="644.00" y2="952.40" stroke="#000" stroke-width="5.0"/>
<line x1="734.70" y1="1149.40" x2="734.70" y2="1124.30" stroke="#000" stroke-width="5.0"/>
<line x1="706.20" y1="1124.30" x2="763.50" y2="1124.30" stroke="#000" stroke-width="5.0"/>
<polyline points="328.30,980.50 328.30,905.60 447.00,905.60 447.00,980.50" fill="none" stroke="#000" stroke-width="3.2" stroke-linejoin="miter"/>
<polyline points="450.30,869.50 450.30,824.00 752.00,824.00 752.00,869.50" fill="none" stroke="#000" stroke-width="3.2" stroke-linejoin="miter"/>
<polyline points="614.60,942.90 614.60,895.40 756.30,895.40 756.30,1030.70" fill="none" stroke="#000" stroke-width="3.2" stroke-linejoin="miter"/>
<text transform="translate(376.65,891.50) scale(0.9528,1)" font-size="37.10" fill="#000">n.s.</text>
<text transform="translate(574.18,809.80) scale(0.9417,1)" font-size="37.10" fill="#000">n.s.</text>
<text transform="translate(618.91,881.90) scale(0.9585,1)" font-size="37.10" fill="#000">p=0.004</text>
<text transform="translate(280.74,1435.40) scale(0.9086,1)" font-size="37.80" fill="#000">Sham</text>
<text transform="translate(419.90,1437.20) scale(0.9343,1)" font-size="37.80" fill="#000">HLI</text>
<text transform="translate(580.63,1435.40) scale(0.9118,1)" font-size="37.80" fill="#000">Sham</text>
<text transform="translate(706.53,1437.50) scale(0.9592,1)" font-size="37.80" fill="#000">HLI</text>
<line x1="289.50" y1="1454.80" x2="475.80" y2="1454.80" stroke="#000" stroke-width="3.5"/>
<line x1="588.60" y1="1454.80" x2="758.00" y2="1454.80" stroke="#000" stroke-width="3.5"/>
<text transform="translate(324.16,1488.00) scale(0.9318,1)" font-size="38.08" font-weight="bold" fill="#000">1-stage</text>
<text transform="translate(640.06,1494.30) scale(0.9113,1)" font-size="39.10" font-weight="bold" fill="#000">2-stage</text>
<text transform="translate(132.30,1350.22) rotate(-90) scale(0.9890,1)" font-size="37.50" font-weight="bold" fill="#000">Total distance travelled (mm)</text>
<text transform="translate(929.41,776.00) scale(1.0745,1)" font-size="40.70" fill="#000">D</text>
<line x1="1130.00" y1="772.80" x2="1130.00" y2="1403.20" stroke="#000" stroke-width="3.5"/>
<line x1="1121.60" y1="1401.50" x2="1722.40" y2="1401.50" stroke="#000" stroke-width="3.5"/>
<line x1="1121.60" y1="774.60" x2="1130.00" y2="774.60" stroke="#000" stroke-width="3.5"/>
<text transform="translate(1073.59,783.20) scale(0.8817,1)" font-size="29.00" font-weight="bold" fill="#000">100</text>
<line x1="1121.60" y1="899.98" x2="1130.00" y2="899.98" stroke="#000" stroke-width="3.5"/>
<text transform="translate(1087.81,908.58) scale(0.8817,1)" font-size="29.00" font-weight="bold" fill="#000">80</text>
<line x1="1121.60" y1="1025.36" x2="1130.00" y2="1025.36" stroke="#000" stroke-width="3.5"/>
<text transform="translate(1087.81,1033.96) scale(0.8817,1)" font-size="29.00" font-weight="bold" fill="#000">60</text>
<line x1="1121.60" y1="1150.74" x2="1130.00" y2="1150.74" stroke="#000" stroke-width="3.5"/>
<text transform="translate(1087.81,1159.34) scale(0.8817,1)" font-size="29.00" font-weight="bold" fill="#000">40</text>
<line x1="1121.60" y1="1276.12" x2="1130.00" y2="1276.12" stroke="#000" stroke-width="3.5"/>
<text transform="translate(1087.81,1284.72) scale(0.8817,1)" font-size="29.00" font-weight="bold" fill="#000">20</text>
<line x1="1121.60" y1="1401.50" x2="1130.00" y2="1401.50" stroke="#000" stroke-width="3.5"/>
<text transform="translate(1102.03,1410.10) scale(0.8817,1)" font-size="29.00" font-weight="bold" fill="#000">0</text>
<line x1="1214.40" y1="1401.50" x2="1214.40" y2="1412.50" stroke="#000" stroke-width="3.5"/>
<line x1="1335.30" y1="1401.50" x2="1335.30" y2="1412.50" stroke="#000" stroke-width="3.5"/>
<line x1="1513.50" y1="1401.50" x2="1513.50" y2="1412.50" stroke="#000" stroke-width="3.5"/>
<line x1="1633.00" y1="1401.50" x2="1633.00" y2="1412.50" stroke="#000" stroke-width="3.5"/>
<rect x="1161.40" y="974.30" width="109.60" height="426.90" fill="#fff" stroke="#000" stroke-width="3.6"/>
<rect x="1281.80" y="964.50" width="109.00" height="436.70" fill="#a3a2a7" stroke="#000" stroke-width="3.6"/>
<rect x="1457.80" y="957.30" width="111.00" height="443.90" fill="#fff" stroke="#000" stroke-width="3.6"/>
<rect x="1577.60" y="1068.20" width="111.60" height="333.00" fill="#000" stroke="#000" stroke-width="3.6"/>
<line x1="1215.80" y1="972.50" x2="1215.80" y2="951.20" stroke="#000" stroke-width="3.6"/>
<line x1="1187.90" y1="951.20" x2="1244.90" y2="951.20" stroke="#000" stroke-width="3.6"/>
<line x1="1335.60" y1="962.70" x2="1335.60" y2="935.00" stroke="#000" stroke-width="3.6"/>
<line x1="1307.40" y1="935.00" x2="1365.00" y2="935.00" stroke="#000" stroke-width="3.6"/>
<line x1="1513.00" y1="955.50" x2="1513.00" y2="934.50" stroke="#000" stroke-width="3.6"/>
<line x1="1484.70" y1="934.50" x2="1541.80" y2="934.50" stroke="#000" stroke-width="3.6"/>
<line x1="1633.00" y1="1066.40" x2="1633.00" y2="1042.50" stroke="#000" stroke-width="3.6"/>
<line x1="1605.00" y1="1042.50" x2="1661.90" y2="1042.50" stroke="#000" stroke-width="3.6"/>
<polyline points="1207.40,916.60 1207.40,895.60 1342.50,895.60 1342.50,916.60" fill="none" stroke="#000" stroke-width="3.2" stroke-linejoin="miter"/>
<polyline points="1338.60,841.70 1338.60,792.30 1630.20,792.30 1630.20,841.70" fill="none" stroke="#000" stroke-width="3.2" stroke-linejoin="miter"/>
<polyline points="1513.00,928.00 1513.00,895.60 1633.00,895.60 1633.00,995.00" fill="none" stroke="#000" stroke-width="3.2" stroke-linejoin="miter"/>
<text transform="translate(1255.61,885.80) scale(0.9019,1)" font-size="36.60" fill="#000">n.s.</text>
<text transform="translate(1463.38,782.10) scale(0.9132,1)" font-size="36.60" fill="#000">n.s.</text>
<text transform="translate(1529.92,883.60) scale(0.9246,1)" font-size="36.60" fill="#000">p=0.004</text>
<text transform="translate(1181.22,1444.50) scale(0.8677,1)" font-size="37.60" fill="#000">Sham</text>
<text transform="translate(1315.23,1446.60) scale(0.8988,1)" font-size="37.60" fill="#000">HLI</text>
<text transform="translate(1472.51,1438.60) scale(0.8720,1)" font-size="37.60" fill="#000">Sham</text>
<text transform="translate(1608.53,1445.80) scale(0.8988,1)" font-size="37.60" fill="#000">HLI</text>
<line x1="1170.00" y1="1457.70" x2="1371.60" y2="1457.70" stroke="#000" stroke-width="3.5"/>
<line x1="1473.20" y1="1457.70" x2="1659.30" y2="1457.70" stroke="#000" stroke-width="3.5"/>
<text transform="translate(1236.57,1493.80) scale(0.8679,1)" font-size="38.95" font-weight="bold" fill="#000">1-stage</text>
<text transform="translate(1502.13,1492.50) scale(0.8873,1)" font-size="37.95" font-weight="bold" fill="#000">2-stage</text>
<text transform="translate(1025.00,1281.31) rotate(-90) scale(1.0401,1)" font-size="35.20" font-weight="bold" fill="#000">Total time in motion in</text>
<text transform="translate(1065.00,1201.31) rotate(-90) scale(1.0559,1)" font-size="34.80" font-weight="bold" fill="#000">OF arena (%)</text>
<text transform="translate(6.52,1545.50) scale(0.9124,1)" font-size="46.51" fill="#000">E</text>
<line x1="246.50" y1="1574.50" x2="246.50" y2="2174.80" stroke="#000" stroke-width="3.5"/>
<line x1="237.60" y1="2173.00" x2="822.00" y2="2173.00" stroke="#000" stroke-width="3.5"/>
<line x1="237.60" y1="1576.30" x2="246.50" y2="1576.30" stroke="#000" stroke-width="3.5"/>
<text transform="translate(203.48,1585.20) scale(0.9276,1)" font-size="28.00" font-weight="bold" fill="#000">80</text>
<line x1="237.60" y1="1725.48" x2="246.50" y2="1725.48" stroke="#000" stroke-width="3.5"/>
<text transform="translate(203.48,1734.38) scale(0.9276,1)" font-size="28.00" font-weight="bold" fill="#000">60</text>
<line x1="237.60" y1="1874.66" x2="246.50" y2="1874.66" stroke="#000" stroke-width="3.5"/>
<text transform="translate(203.48,1883.56) scale(0.9276,1)" font-size="28.00" font-weight="bold" fill="#000">40</text>
<line x1="237.60" y1="2023.84" x2="246.50" y2="2023.84" stroke="#000" stroke-width="3.5"/>
<text transform="translate(203.48,2032.74) scale(0.9276,1)" font-size="28.00" font-weight="bold" fill="#000">20</text>
<line x1="237.60" y1="2173.02" x2="246.50" y2="2173.02" stroke="#000" stroke-width="3.5"/>
<text transform="translate(217.92,2181.92) scale(0.9276,1)" font-size="28.00" font-weight="bold" fill="#000">0</text>
<line x1="331.20" y1="2173.00" x2="331.20" y2="2184.00" stroke="#000" stroke-width="3.5"/>
<line x1="448.20" y1="2173.00" x2="448.20" y2="2184.00" stroke="#000" stroke-width="3.5"/>
<line x1="616.60" y1="2173.00" x2="616.60" y2="2184.00" stroke="#000" stroke-width="3.5"/>
<line x1="735.00" y1="2173.00" x2="735.00" y2="2184.00" stroke="#000" stroke-width="3.5"/>
<rect x="276.80" y="1821.50" width="108.80" height="351.70" fill="#fff" stroke="#000" stroke-width="3.6"/>
<rect x="395.50" y="1807.70" width="107.80" height="365.50" fill="#a3a2a7" stroke="#000" stroke-width="3.6"/>
<rect x="564.00" y="1776.80" width="107.80" height="396.40" fill="#fff" stroke="#000" stroke-width="3.6"/>
<rect x="680.60" y="1869.80" width="109.90" height="303.40" fill="#000" stroke="#000" stroke-width="3.6"/>
<line x1="331.80" y1="1819.70" x2="331.80" y2="1794.60" stroke="#000" stroke-width="5.0"/>
<line x1="303.90" y1="1794.60" x2="359.40" y2="1794.60" stroke="#000" stroke-width="5.0"/>
<line x1="449.40" y1="1805.90" x2="449.40" y2="1780.50" stroke="#000" stroke-width="5.0"/>
<line x1="421.60" y1="1780.50" x2="477.00" y2="1780.50" stroke="#000" stroke-width="5.0"/>
<line x1="617.50" y1="1775.00" x2="617.50" y2="1740.00" stroke="#000" stroke-width="5.0"/>
<line x1="589.50" y1="1740.00" x2="645.40" y2="1740.00" stroke="#000" stroke-width="5.0"/>
<line x1="735.00" y1="1868.00" x2="735.00" y2="1854.30" stroke="#000" stroke-width="5.0"/>
<line x1="707.60" y1="1854.30" x2="763.50" y2="1854.30" stroke="#000" stroke-width="5.0"/>
<polyline points="327.50,1763.50 327.50,1745.70 453.60,1745.70 453.60,1763.50" fill="none" stroke="#000" stroke-width="3.2" stroke-linejoin="miter"/>
<polyline points="464.10,1648.50 464.10,1618.00 742.70,1618.00 742.70,1648.50" fill="none" stroke="#000" stroke-width="3.2" stroke-linejoin="miter"/>
<polyline points="609.70,1727.50 609.70,1697.60 742.70,1697.60 742.70,1824.90" fill="none" stroke="#000" stroke-width="3.2" stroke-linejoin="miter"/>
<text transform="translate(372.32,1733.60) scale(1.0054,1)" font-size="34.20" fill="#000">n.s.</text>
<text transform="translate(578.86,1609.20) scale(0.9873,1)" font-size="34.20" fill="#000">n.s.</text>
<text transform="translate(613.98,1684.30) scale(1.0077,1)" font-size="34.20" fill="#000">p=0.004</text>
<text transform="translate(283.09,2209.00) scale(0.9439,1)" font-size="35.20" fill="#000">Sham</text>
<text transform="translate(430.98,2211.20) scale(0.9765,1)" font-size="35.20" fill="#000">HLI</text>
<text transform="translate(571.28,2209.00) scale(0.9485,1)" font-size="35.20" fill="#000">Sham</text>
<text transform="translate(717.92,2211.60) scale(0.9971,1)" font-size="35.20" fill="#000">HLI</text>
<line x1="273.00" y1="2225.00" x2="499.40" y2="2225.00" stroke="#000" stroke-width="3.5"/>
<line x1="574.30" y1="2225.00" x2="799.50" y2="2225.00" stroke="#000" stroke-width="3.5"/>
<text transform="translate(324.63,2258.00) scale(0.9407,1)" font-size="36.63" font-weight="bold" fill="#000">1-stage</text>
<text transform="translate(629.31,2263.40) scale(0.9593,1)" font-size="35.80" font-weight="bold" fill="#000">2-stage</text>
<text transform="translate(138.40,2069.69) rotate(-90) scale(0.9586,1)" font-size="36.00" font-weight="bold" fill="#000">Total Velocity of motion</text>
<text transform="translate(179.20,2051.71) rotate(-90) scale(0.9734,1)" font-size="35.50" font-weight="bold" fill="#000">in OF arena (mm/sec)</text>
<text transform="translate(922.06,1559.00) scale(0.8359,1)" font-size="47.24" fill="#000">F</text>
<line x1="1114.50" y1="1593.70" x2="1114.50" y2="2167.00" stroke="#000" stroke-width="3.5"/>
<line x1="1106.00" y1="2165.30" x2="1890.00" y2="2165.30" stroke="#000" stroke-width="3.5"/>
<line x1="1105.00" y1="1595.50" x2="1114.50" y2="1595.50" stroke="#000" stroke-width="3.5"/>
<text transform="translate(1063.89,1605.30) scale(0.8662,1)" font-size="29.50" font-weight="bold" fill="#000">1.5</text>
<line x1="1105.00" y1="1880.70" x2="1114.50" y2="1880.70" stroke="#000" stroke-width="3.5"/>
<text transform="translate(1064.23,1890.50) scale(0.8662,1)" font-size="29.50" font-weight="bold" fill="#000">1.0</text>
<line x1="1105.00" y1="2165.30" x2="1114.50" y2="2165.30" stroke="#000" stroke-width="3.5"/>
<text transform="translate(1063.89,2175.10) scale(0.8662,1)" font-size="29.50" font-weight="bold" fill="#000">0.5</text>
<line x1="1228.30" y1="2165.30" x2="1228.30" y2="2178.00" stroke="#000" stroke-width="3.5"/>
<line x1="1386.20" y1="2165.30" x2="1386.20" y2="2178.00" stroke="#000" stroke-width="3.5"/>
<line x1="1613.40" y1="2165.30" x2="1613.40" y2="2178.00" stroke="#000" stroke-width="3.5"/>
<line x1="1772.60" y1="2165.30" x2="1772.60" y2="2178.00" stroke="#000" stroke-width="3.5"/>
<line x1="1227.80" y1="1784.30" x2="1227.80" y2="1815.00" stroke="#000" stroke-width="3.4"/>
<line x1="1227.80" y1="1896.00" x2="1227.80" y2="1897.60" stroke="#000" stroke-width="3.4"/>
<line x1="1191.80" y1="1784.30" x2="1265.80" y2="1784.30" stroke="#000" stroke-width="3.4"/>
<line x1="1191.80" y1="1897.60" x2="1265.80" y2="1897.60" stroke="#000" stroke-width="3.4"/>
<rect x="1154.00" y="1816.70" width="147.50" height="77.60" fill="#fff" stroke="#000" stroke-width="3.4"/>
<line x1="1152.30" y1="1888.80" x2="1303.20" y2="1888.80" stroke="#000" stroke-width="3.4"/>
<line x1="1386.20" y1="1882.50" x2="1386.20" y2="1913.30" stroke="#000" stroke-width="3.4"/>
<line x1="1386.20" y1="2060.20" x2="1386.20" y2="2069.70" stroke="#000" stroke-width="3.4"/>
<line x1="1348.40" y1="1882.50" x2="1423.80" y2="1882.50" stroke="#000" stroke-width="3.4"/>
<line x1="1348.40" y1="2069.70" x2="1423.80" y2="2069.70" stroke="#000" stroke-width="3.4"/>
<rect x="1313.20" y="1915.00" width="147.80" height="143.50" fill="#d4d4d4" stroke="#000" stroke-width="3.4"/>
<line x1="1311.50" y1="1967.10" x2="1462.70" y2="1967.10" stroke="#000" stroke-width="3.4"/>
<line x1="1613.30" y1="1744.00" x2="1613.30" y2="1783.00" stroke="#000" stroke-width="3.4"/>
<line x1="1613.30" y1="1873.30" x2="1613.30" y2="1880.70" stroke="#000" stroke-width="3.4"/>
<line x1="1575.90" y1="1744.00" x2="1651.00" y2="1744.00" stroke="#000" stroke-width="3.4"/>
<line x1="1575.90" y1="1880.70" x2="1651.00" y2="1880.70" stroke="#000" stroke-width="3.4"/>
<rect x="1540.50" y="1784.70" width="146.20" height="86.90" fill="#fff" stroke="#000" stroke-width="3.4"/>
<line x1="1538.80" y1="1828.30" x2="1688.40" y2="1828.30" stroke="#000" stroke-width="3.4"/>
<line x1="1772.60" y1="1908.60" x2="1772.60" y2="1929.20" stroke="#000" stroke-width="3.4"/>
<line x1="1772.60" y1="2036.70" x2="1772.60" y2="2038.80" stroke="#000" stroke-width="3.4"/>
<line x1="1735.40" y1="1908.60" x2="1810.40" y2="1908.60" stroke="#000" stroke-width="3.4"/>
<line x1="1735.40" y1="2038.80" x2="1810.40" y2="2038.80" stroke="#000" stroke-width="3.4"/>
<rect x="1699.30" y="1930.90" width="146.60" height="104.10" fill="#a3a2a7" stroke="#000" stroke-width="3.4"/>
<line x1="1697.60" y1="1966.40" x2="1847.60" y2="1966.40" stroke="#000" stroke-width="3.4"/>
<polyline points="1224.90,1745.40 1224.90,1666.50 1387.60,1666.50 1387.60,1814.00" fill="none" stroke="#000" stroke-width="3.2" stroke-linejoin="miter"/>
<polyline points="1389.30,1600.80 1389.30,1581.00 1758.20,1581.00 1758.20,1600.80" fill="none" stroke="#000" stroke-width="3.2" stroke-linejoin="miter"/>
<polyline points="1614.70,1719.50 1614.70,1667.00 1765.00,1667.00 1765.00,1800.00" fill="none" stroke="#000" stroke-width="3.2" stroke-linejoin="miter"/>
<text transform="translate(1249.15,1655.30) scale(0.8938,1)" font-size="39.00" fill="#000">p=0.026</text>
<text transform="translate(1549.87,1571.00) scale(0.8605,1)" font-size="39.00" fill="#000">n.s.</text>
<text transform="translate(1624.47,1650.20) scale(0.8865,1)" font-size="39.00" fill="#000">p=0.004</text>
<text transform="translate(1204.98,2217.20) scale(0.8440,1)" font-size="39.70" fill="#000">Sham</text>
<text transform="translate(1384.75,2215.30) scale(0.8750,1)" font-size="39.70" fill="#000">HLI</text>
<text transform="translate(1582.17,2219.20) scale(0.8490,1)" font-size="39.70" fill="#000">Sham</text>
<text transform="translate(1752.13,2219.50) scale(0.8823,1)" font-size="39.70" fill="#000">HLI</text>
<line x1="1195.20" y1="2234.40" x2="1463.30" y2="2234.40" stroke="#000" stroke-width="3.5"/>
<line x1="1575.90" y1="2240.50" x2="1822.60" y2="2240.50" stroke="#000" stroke-width="3.5"/>
<text transform="translate(1267.02,2276.60) scale(0.8526,1)" font-size="40.55" font-weight="bold" fill="#000">1-stage</text>
<text transform="translate(1645.90,2286.80) scale(0.8654,1)" font-size="39.96" font-weight="bold" fill="#000">2-stage</text>
<text transform="translate(999.50,2136.01) rotate(-90) scale(1.0873,1)" font-size="35.90" font-weight="bold" fill="#000">Limb Withdrawal Threshold</text>
<text transform="translate(1040.50,2134.95) rotate(-90) scale(1.0353,1)" font-size="35.90" font-weight="bold" fill="#000">(LWT) Ratio, Left/Right limb</text>
</svg>
</body></html>
